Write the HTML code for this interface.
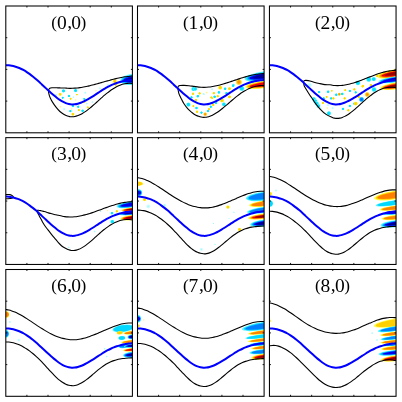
<!DOCTYPE html>
<html><head><meta charset="utf-8"><style>
html,body{margin:0;padding:0;background:#fff;width:402px;height:402px;overflow:hidden}
svg{display:block;font-family:"Liberation Serif",serif;will-change:transform}
</style></head><body>
<svg width="402" height="402" viewBox="0 0 402 402">
<defs><filter id="bl" x="-20%" y="-20%" width="140%" height="140%"><feGaussianBlur stdDeviation="0.55"/></filter><clipPath id="clip"><rect x="0" y="0" width="126.60" height="126.80"/></clipPath><radialGradient id="n3"><stop offset="0.00" stop-color="#00006a" stop-opacity="1.00"/><stop offset="0.22" stop-color="#0000d8" stop-opacity="1.00"/><stop offset="0.42" stop-color="#0050ff" stop-opacity="1.00"/><stop offset="0.60" stop-color="#00b0ff" stop-opacity="1.00"/><stop offset="0.75" stop-color="#20e8ff" stop-opacity="0.95"/><stop offset="0.88" stop-color="#a0ffff" stop-opacity="0.60"/><stop offset="1.00" stop-color="#ffffff" stop-opacity="0.00"/></radialGradient><radialGradient id="n25"><stop offset="0.00" stop-color="#0000c8" stop-opacity="1.00"/><stop offset="0.30" stop-color="#0040ff" stop-opacity="1.00"/><stop offset="0.50" stop-color="#0090ff" stop-opacity="1.00"/><stop offset="0.68" stop-color="#10d8ff" stop-opacity="1.00"/><stop offset="0.82" stop-color="#60f4ff" stop-opacity="0.85"/><stop offset="0.92" stop-color="#c0ffff" stop-opacity="0.50"/><stop offset="1.00" stop-color="#ffffff" stop-opacity="0.00"/></radialGradient><radialGradient id="n2"><stop offset="0.00" stop-color="#0060ff" stop-opacity="1.00"/><stop offset="0.35" stop-color="#00a0ff" stop-opacity="1.00"/><stop offset="0.60" stop-color="#10e0ff" stop-opacity="1.00"/><stop offset="0.80" stop-color="#70f8ff" stop-opacity="0.80"/><stop offset="0.92" stop-color="#c8ffff" stop-opacity="0.45"/><stop offset="1.00" stop-color="#ffffff" stop-opacity="0.00"/></radialGradient><radialGradient id="n15"><stop offset="0.00" stop-color="#00c8ff" stop-opacity="1.00"/><stop offset="0.45" stop-color="#20eaff" stop-opacity="1.00"/><stop offset="0.75" stop-color="#80faff" stop-opacity="0.75"/><stop offset="1.00" stop-color="#ffffff" stop-opacity="0.00"/></radialGradient><radialGradient id="p3"><stop offset="0.00" stop-color="#700000" stop-opacity="1.00"/><stop offset="0.22" stop-color="#d80000" stop-opacity="1.00"/><stop offset="0.42" stop-color="#ff4000" stop-opacity="1.00"/><stop offset="0.60" stop-color="#ff9800" stop-opacity="1.00"/><stop offset="0.75" stop-color="#ffd800" stop-opacity="0.95"/><stop offset="0.88" stop-color="#ffff70" stop-opacity="0.60"/><stop offset="1.00" stop-color="#ffffff" stop-opacity="0.00"/></radialGradient><radialGradient id="p25"><stop offset="0.00" stop-color="#e00000" stop-opacity="1.00"/><stop offset="0.30" stop-color="#ff4000" stop-opacity="1.00"/><stop offset="0.50" stop-color="#ff8c00" stop-opacity="1.00"/><stop offset="0.68" stop-color="#ffc800" stop-opacity="1.00"/><stop offset="0.82" stop-color="#ffee30" stop-opacity="0.85"/><stop offset="0.92" stop-color="#ffffa0" stop-opacity="0.50"/><stop offset="1.00" stop-color="#ffffff" stop-opacity="0.00"/></radialGradient><radialGradient id="p2"><stop offset="0.00" stop-color="#ff6000" stop-opacity="1.00"/><stop offset="0.35" stop-color="#ff9c00" stop-opacity="1.00"/><stop offset="0.60" stop-color="#ffd000" stop-opacity="1.00"/><stop offset="0.80" stop-color="#fff040" stop-opacity="0.80"/><stop offset="0.92" stop-color="#ffffa8" stop-opacity="0.45"/><stop offset="1.00" stop-color="#ffffff" stop-opacity="0.00"/></radialGradient><radialGradient id="p15"><stop offset="0.00" stop-color="#ffb800" stop-opacity="1.00"/><stop offset="0.45" stop-color="#ffdc00" stop-opacity="1.00"/><stop offset="0.75" stop-color="#fff470" stop-opacity="0.75"/><stop offset="1.00" stop-color="#ffffff" stop-opacity="0.00"/></radialGradient><radialGradient id="dc"><stop offset="0.00" stop-color="#00dcff" stop-opacity="1.00"/><stop offset="0.55" stop-color="#10e8ff" stop-opacity="1.00"/><stop offset="0.80" stop-color="#70f6ff" stop-opacity="0.70"/><stop offset="1.00" stop-color="#c0ffff" stop-opacity="0.00"/></radialGradient><radialGradient id="dpc"><stop offset="0.00" stop-color="#90f8ff" stop-opacity="0.85"/><stop offset="0.60" stop-color="#b8fcff" stop-opacity="0.60"/><stop offset="1.00" stop-color="#ffffff" stop-opacity="0.00"/></radialGradient><radialGradient id="dy"><stop offset="0.00" stop-color="#ffd000" stop-opacity="1.00"/><stop offset="0.55" stop-color="#ffe000" stop-opacity="1.00"/><stop offset="0.80" stop-color="#fff060" stop-opacity="0.70"/><stop offset="1.00" stop-color="#ffffa0" stop-opacity="0.00"/></radialGradient><radialGradient id="dyo"><stop offset="0.00" stop-color="#ffb000" stop-opacity="1.00"/><stop offset="0.50" stop-color="#ffd800" stop-opacity="0.95"/><stop offset="1.00" stop-color="#ffffa0" stop-opacity="0.00"/></radialGradient><radialGradient id="dpy"><stop offset="0.00" stop-color="#fff080" stop-opacity="0.85"/><stop offset="0.60" stop-color="#fff8b0" stop-opacity="0.60"/><stop offset="1.00" stop-color="#ffffff" stop-opacity="0.00"/></radialGradient><radialGradient id="dn"><stop offset="0.00" stop-color="#0060ff" stop-opacity="1.00"/><stop offset="0.50" stop-color="#0090ff" stop-opacity="1.00"/><stop offset="0.80" stop-color="#40d0ff" stop-opacity="0.70"/><stop offset="1.00" stop-color="#c0ffff" stop-opacity="0.00"/></radialGradient><radialGradient id="do"><stop offset="0.00" stop-color="#ff8000" stop-opacity="1.00"/><stop offset="0.45" stop-color="#ffb000" stop-opacity="1.00"/><stop offset="0.80" stop-color="#ffe040" stop-opacity="0.70"/><stop offset="1.00" stop-color="#ffffa0" stop-opacity="0.00"/></radialGradient></defs>
<rect width="402" height="402" fill="#fff"/>
<g transform="translate(5.80,6.00)">
<g clip-path="url(#clip)">
<g filter="url(#bl)">
<ellipse cx="127.40" cy="73.30" rx="12.90" ry="5.60" fill="#60f4ff" transform="rotate(-6.0 127.40 73.30)"/>
<ellipse cx="127.40" cy="73.30" rx="11.87" ry="4.70" fill="#00d8ff" transform="rotate(-6.0 127.40 73.30)"/>
<ellipse cx="127.40" cy="73.30" rx="10.96" ry="3.81" fill="#0080ff" transform="rotate(-6.0 127.40 73.30)"/>
<ellipse cx="127.40" cy="73.30" rx="9.93" ry="2.91" fill="#0000f0" transform="rotate(-6.0 127.40 73.30)"/>
<ellipse cx="127.40" cy="73.30" rx="7.74" ry="2.02" fill="#00009a" transform="rotate(-6.0 127.40 73.30)"/>
</g>
<circle cx="57.70" cy="84.90" r="2.08" fill="url(#dc)"/>
<circle cx="69.80" cy="84.60" r="2.08" fill="url(#dc)"/>
<circle cx="63.10" cy="89.90" r="1.60" fill="url(#dc)"/>
<circle cx="56.90" cy="91.70" r="1.44" fill="url(#dc)"/>
<circle cx="50.30" cy="88.90" r="1.60" fill="url(#dpc)"/>
<circle cx="67.70" cy="91.20" r="1.28" fill="url(#dpc)"/>
<circle cx="78.50" cy="92.90" r="1.44" fill="url(#dc)"/>
<circle cx="67.10" cy="100.10" r="1.60" fill="url(#dc)"/>
<circle cx="72.40" cy="100.70" r="1.60" fill="url(#dc)"/>
<circle cx="64.60" cy="105.10" r="1.60" fill="url(#dc)"/>
<circle cx="76.80" cy="104.80" r="1.76" fill="url(#dc)"/>
<circle cx="58.40" cy="103.20" r="1.60" fill="url(#dpc)"/>
<circle cx="79.50" cy="86.70" r="1.60" fill="url(#dpc)"/>
<circle cx="81.00" cy="97.60" r="1.44" fill="url(#dpc)"/>
<circle cx="86.60" cy="96.10" r="1.44" fill="url(#dpc)"/>
<circle cx="102.10" cy="78.90" r="1.60" fill="url(#dpc)"/>
<circle cx="94.10" cy="82.40" r="1.60" fill="url(#dpc)"/>
<circle cx="54.30" cy="88.30" r="1.92" fill="url(#dy)"/>
<circle cx="64.80" cy="92.70" r="1.44" fill="url(#dy)"/>
<circle cx="71.10" cy="88.70" r="1.12" fill="url(#dy)"/>
<circle cx="69.80" cy="93.90" r="1.44" fill="url(#dpy)"/>
<circle cx="82.00" cy="101.40" r="1.44" fill="url(#dy)"/>
<circle cx="73.00" cy="104.10" r="1.44" fill="url(#dy)"/>
<circle cx="67.10" cy="108.20" r="1.92" fill="url(#dy)"/>
<circle cx="65.80" cy="102.90" r="1.44" fill="url(#dpy)"/>
<circle cx="54.60" cy="100.70" r="1.44" fill="url(#dpy)"/>
<circle cx="90.10" cy="84.60" r="1.44" fill="url(#dpy)"/>
<circle cx="78.30" cy="96.40" r="1.12" fill="url(#dy)"/>
<circle cx="109.00" cy="75.30" r="2.72" fill="url(#dyo)"/>
<circle cx="110.00" cy="78.60" r="1.60" fill="url(#dy)"/>
<g transform="translate(0,0.20)">
<path d="M42.70,84.45C42.75,84.26 42.85,83.64 43.00,83.30C43.15,82.96 43.32,82.64 43.60,82.40C43.88,82.16 44.27,81.98 44.70,81.85C45.13,81.72 45.55,81.66 46.20,81.60C46.85,81.54 47.78,81.50 48.60,81.50C49.42,81.50 50.18,81.57 51.10,81.60C52.02,81.63 53.27,81.66 54.10,81.70C54.93,81.74 55.27,81.83 56.10,81.85C56.93,81.87 58.18,81.81 59.10,81.84C60.02,81.88 60.77,82.00 61.60,82.05C62.43,82.09 63.27,82.12 64.10,82.13C64.93,82.14 65.77,82.12 66.60,82.10C67.43,82.07 68.27,82.02 69.10,81.96C69.93,81.90 70.77,81.83 71.60,81.74C72.43,81.65 73.27,81.54 74.10,81.42C74.93,81.30 75.77,81.17 76.60,81.03C77.43,80.89 78.27,80.73 79.10,80.57C79.93,80.40 80.77,80.22 81.60,80.04C82.43,79.86 83.27,79.66 84.10,79.47C84.93,79.27 85.77,79.06 86.60,78.84C87.43,78.63 88.27,78.41 89.10,78.19C89.93,77.97 90.77,77.74 91.60,77.51C92.43,77.27 93.27,77.04 94.10,76.80C94.93,76.57 95.77,76.33 96.60,76.09C97.43,75.85 98.27,75.61 99.10,75.38C99.93,75.14 100.77,74.90 101.60,74.67C102.43,74.44 103.27,74.20 104.10,73.98C104.93,73.75 105.77,73.53 106.60,73.31C107.43,73.09 108.27,72.88 109.10,72.67C109.93,72.47 110.77,72.27 111.60,72.08C112.43,71.89 113.27,71.70 114.10,71.53C114.93,71.36 115.77,71.19 116.60,71.04C117.43,70.89 118.27,70.75 119.10,70.62C119.93,70.49 120.77,70.37 121.60,70.27C122.43,70.17 123.27,70.08 124.10,70.00C124.93,69.93 126.18,69.86 126.60,69.83" fill="none" stroke="#000" stroke-width="1.1"/>
<path d="M42.70,84.45C42.73,84.79 42.72,85.71 42.85,86.50C42.98,87.29 43.24,88.37 43.50,89.20C43.76,90.03 43.87,90.38 44.40,91.50C44.93,92.62 45.70,94.28 46.70,95.90C47.70,97.52 49.17,99.63 50.40,101.20C51.63,102.77 52.85,104.17 54.10,105.30C55.35,106.43 56.65,107.24 57.90,108.00C59.15,108.76 60.57,109.46 61.60,109.87C62.63,110.29 63.27,110.36 64.10,110.48C64.93,110.60 65.77,110.64 66.60,110.62C67.43,110.59 68.27,110.49 69.10,110.33C69.93,110.16 70.77,109.93 71.60,109.65C72.43,109.36 73.27,109.02 74.10,108.62C74.93,108.23 75.77,107.78 76.60,107.30C77.43,106.81 78.27,106.28 79.10,105.71C79.93,105.15 80.77,104.54 81.60,103.91C82.43,103.28 83.27,102.61 84.10,101.93C84.93,101.25 85.77,100.53 86.60,99.81C87.43,99.09 88.27,98.35 89.10,97.61C89.93,96.86 90.77,96.11 91.60,95.35C92.43,94.60 93.27,93.84 94.10,93.09C94.93,92.34 95.77,91.59 96.60,90.86C97.43,90.13 98.27,89.41 99.10,88.71C99.93,88.02 100.77,87.34 101.60,86.68C102.43,86.03 103.27,85.39 104.10,84.78C104.93,84.18 105.77,83.60 106.60,83.05C107.43,82.50 108.27,81.98 109.10,81.49C109.93,81.01 110.77,80.56 111.60,80.14C112.43,79.73 113.27,79.35 114.10,79.01C114.93,78.67 115.77,78.37 116.60,78.12C117.43,77.87 118.27,77.65 119.10,77.49C119.93,77.33 120.77,77.21 121.60,77.15C122.43,77.08 123.27,77.07 124.10,77.11C124.93,77.15 126.18,77.35 126.60,77.40" fill="none" stroke="#000" stroke-width="1.1"/>
<path d="M0.00,58.94C0.50,58.97 2.00,58.99 3.00,59.09C4.00,59.19 5.00,59.34 6.00,59.54C7.00,59.74 8.00,59.99 9.00,60.28C10.00,60.57 11.00,60.90 12.00,61.28C13.00,61.65 14.00,62.07 15.00,62.53C16.00,62.98 17.00,63.44 18.00,64.00C19.00,64.55 20.00,65.19 21.00,65.85C22.00,66.50 23.00,67.19 24.00,67.92C25.00,68.65 26.00,69.41 27.00,70.21C28.00,71.01 29.00,71.84 30.00,72.71C31.00,73.57 32.00,74.49 33.00,75.41C34.00,76.32 35.00,77.28 36.00,78.21C37.00,79.13 38.00,80.05 39.00,80.98C40.00,81.91 41.00,82.85 42.00,83.77C43.00,84.69 44.00,85.62 45.00,86.51C46.00,87.40 47.00,88.29 48.00,89.13C49.00,89.97 50.00,90.79 51.00,91.55C52.00,92.32 53.00,93.05 54.00,93.71C55.00,94.37 56.00,94.99 57.00,95.53C58.00,96.06 59.00,96.54 60.00,96.93C61.00,97.32 62.00,97.63 63.00,97.85C64.00,98.06 65.00,98.18 66.00,98.22C67.00,98.26 68.00,98.21 69.00,98.09C70.00,97.97 71.00,97.76 72.00,97.50C73.00,97.25 74.00,96.92 75.00,96.54C76.00,96.17 77.00,95.73 78.00,95.26C79.00,94.79 80.00,94.26 81.00,93.72C82.00,93.17 83.00,92.58 84.00,91.98C85.00,91.38 86.00,90.74 87.00,90.10C88.00,89.46 89.00,88.80 90.00,88.14C91.00,87.49 92.00,86.82 93.00,86.17C94.00,85.52 95.00,84.86 96.00,84.24C97.00,83.61 98.00,82.99 99.00,82.40C100.00,81.82 101.00,81.26 102.00,80.73C103.00,80.21 104.00,79.71 105.00,79.24C106.00,78.78 107.00,78.34 108.00,77.94C109.00,77.53 110.00,77.15 111.00,76.81C112.00,76.46 113.00,76.14 114.00,75.85C115.00,75.56 116.00,75.30 117.00,75.06C118.00,74.83 119.00,74.62 120.00,74.45C121.00,74.27 122.00,74.12 123.00,73.99C124.00,73.87 125.40,73.75 126.00,73.70C126.60,73.64 126.50,73.67 126.60,73.66" fill="none" stroke="#0000ff" stroke-width="2.0"/>
</g></g>
<rect x="0" y="0" width="126.60" height="126.80" fill="none" stroke="#000" stroke-width="1.05"/>
<path d="M21.10,0V1.50M21.10,126.80V125.30M42.20,0V1.50M42.20,126.80V125.30M63.30,0V1.50M63.30,126.80V125.30M84.40,0V1.50M84.40,126.80V125.30M105.50,0V1.50M105.50,126.80V125.30M0,31.70H1.50M126.60,31.70H125.10M0,63.40H1.50M126.60,63.40H125.10M0,95.10H1.50M126.60,95.10H125.10" stroke="#000" stroke-width="0.9" fill="none"/>
<text font-family="Liberation Serif" fill="#000" transform="translate(0,0.45)"><tspan x="45.44" y="21.44" font-size="17.2">(</tspan><tspan x="51.1" y="22.22" font-size="19.5">0</tspan><tspan x="61.41" y="21.3" font-size="19.5">,</tspan><tspan x="65.46" y="22.22" font-size="19.5">0</tspan><tspan x="74.7" y="21.44" font-size="17.2">)</tspan></text>
</g>
<g transform="translate(137.50,6.00)">
<g clip-path="url(#clip)">
<g filter="url(#bl)">
<ellipse cx="127.40" cy="70.10" rx="20.40" ry="4.90" fill="#60f4ff" transform="rotate(-8.0 127.40 70.10)"/>
<ellipse cx="127.40" cy="70.10" rx="18.77" ry="4.12" fill="#00d8ff" transform="rotate(-8.0 127.40 70.10)"/>
<ellipse cx="127.40" cy="70.10" rx="17.34" ry="3.33" fill="#0080ff" transform="rotate(-8.0 127.40 70.10)"/>
<ellipse cx="127.40" cy="70.10" rx="15.71" ry="2.55" fill="#0000f0" transform="rotate(-8.0 127.40 70.10)"/>
<ellipse cx="127.40" cy="70.10" rx="12.24" ry="1.76" fill="#00009a" transform="rotate(-8.0 127.40 70.10)"/>
<ellipse cx="127.40" cy="78.30" rx="19.90" ry="3.80" fill="#ffff50" transform="rotate(-8.0 127.40 78.30)"/>
<ellipse cx="127.40" cy="78.30" rx="18.31" ry="3.19" fill="#ffd000" transform="rotate(-8.0 127.40 78.30)"/>
<ellipse cx="127.40" cy="78.30" rx="16.91" ry="2.58" fill="#ff8000" transform="rotate(-8.0 127.40 78.30)"/>
<ellipse cx="127.40" cy="78.30" rx="15.32" ry="1.98" fill="#f00000" transform="rotate(-8.0 127.40 78.30)"/>
</g>
<circle cx="55.90" cy="83.00" r="2.56" fill="url(#dc)"/>
<circle cx="57.80" cy="83.00" r="2.24" fill="url(#dc)"/>
<circle cx="60.30" cy="90.20" r="1.76" fill="url(#dc)"/>
<circle cx="54.00" cy="91.40" r="1.60" fill="url(#dc)"/>
<circle cx="50.90" cy="98.60" r="2.56" fill="url(#dc)"/>
<circle cx="59.00" cy="102.00" r="1.76" fill="url(#dc)"/>
<circle cx="64.00" cy="106.60" r="1.60" fill="url(#dc)"/>
<circle cx="70.20" cy="105.10" r="1.60" fill="url(#dpc)"/>
<circle cx="73.30" cy="100.70" r="1.60" fill="url(#dc)"/>
<circle cx="77.10" cy="90.80" r="1.76" fill="url(#dc)"/>
<circle cx="81.40" cy="86.40" r="1.76" fill="url(#dc)"/>
<circle cx="86.40" cy="98.30" r="2.40" fill="url(#dc)"/>
<circle cx="87.60" cy="82.70" r="1.76" fill="url(#dc)"/>
<circle cx="74.60" cy="83.30" r="1.60" fill="url(#dpc)"/>
<circle cx="66.50" cy="88.30" r="1.44" fill="url(#dpc)"/>
<circle cx="95.90" cy="78.90" r="1.60" fill="url(#dc)"/>
<circle cx="65.90" cy="87.90" r="1.44" fill="url(#dpc)"/>
<circle cx="104.30" cy="82.50" r="3.04" fill="url(#dc)"/>
<circle cx="55.50" cy="87.70" r="1.60" fill="url(#dy)"/>
<circle cx="62.10" cy="87.40" r="1.60" fill="url(#dy)"/>
<circle cx="69.00" cy="86.40" r="1.44" fill="url(#dpy)"/>
<circle cx="58.40" cy="93.90" r="1.60" fill="url(#dy)"/>
<circle cx="55.90" cy="100.10" r="1.44" fill="url(#dy)"/>
<circle cx="59.60" cy="105.70" r="1.60" fill="url(#dy)"/>
<circle cx="67.70" cy="108.20" r="2.24" fill="url(#do)"/>
<circle cx="74.60" cy="92.00" r="1.60" fill="url(#dy)"/>
<circle cx="75.80" cy="98.90" r="1.60" fill="url(#dy)"/>
<circle cx="71.50" cy="103.20" r="1.44" fill="url(#dy)"/>
<circle cx="82.70" cy="81.70" r="2.40" fill="url(#dy)"/>
<circle cx="84.50" cy="94.50" r="2.40" fill="url(#dy)"/>
<circle cx="80.20" cy="90.20" r="1.60" fill="url(#dy)"/>
<circle cx="101.40" cy="76.10" r="3.52" fill="url(#do)"/>
<circle cx="69.30" cy="86.70" r="1.44" fill="url(#dpy)"/>
<circle cx="73.80" cy="91.40" r="1.44" fill="url(#dy)"/>
<circle cx="76.30" cy="87.20" r="1.60" fill="url(#dy)"/>
<circle cx="92.00" cy="82.70" r="1.92" fill="url(#dy)"/>
<circle cx="95.70" cy="79.70" r="1.76" fill="url(#dc)"/>
<circle cx="89.00" cy="87.20" r="1.76" fill="url(#dc)"/>
<circle cx="92.00" cy="90.90" r="1.92" fill="url(#dy)"/>
<circle cx="70.40" cy="105.10" r="1.60" fill="url(#dc)"/>
<circle cx="78.60" cy="96.90" r="1.60" fill="url(#dc)"/>
<g transform="translate(0,0.20)">
<path d="M40.30,81.45C40.37,81.26 40.50,80.61 40.70,80.30C40.90,79.99 41.20,79.77 41.50,79.60C41.80,79.43 41.67,79.37 42.50,79.30C43.33,79.23 45.02,79.17 46.50,79.20C47.98,79.23 49.75,79.33 51.40,79.50C53.05,79.67 54.73,79.97 56.40,80.20C58.07,80.43 60.15,80.73 61.40,80.88C62.65,81.03 63.07,81.04 63.90,81.09C64.73,81.13 65.57,81.15 66.40,81.15C67.23,81.14 68.07,81.12 68.90,81.07C69.73,81.02 70.57,80.95 71.40,80.86C72.23,80.77 73.07,80.66 73.90,80.54C74.73,80.42 75.57,80.27 76.40,80.11C77.23,79.96 78.07,79.78 78.90,79.60C79.73,79.41 80.57,79.21 81.40,79.00C82.23,78.79 83.07,78.56 83.90,78.33C84.73,78.10 85.57,77.85 86.40,77.60C87.23,77.35 88.07,77.09 88.90,76.83C89.73,76.56 90.57,76.29 91.40,76.02C92.23,75.75 93.07,75.47 93.90,75.19C94.73,74.91 95.57,74.62 96.40,74.34C97.23,74.06 98.07,73.78 98.90,73.50C99.73,73.22 100.57,72.93 101.40,72.66C102.23,72.39 103.07,72.11 103.90,71.85C104.73,71.58 105.57,71.32 106.40,71.07C107.23,70.81 108.07,70.57 108.90,70.33C109.73,70.10 110.57,69.87 111.40,69.65C112.23,69.44 113.07,69.23 113.90,69.04C114.73,68.85 115.57,68.67 116.40,68.51C117.23,68.35 118.07,68.20 118.90,68.07C119.73,67.94 120.57,67.83 121.40,67.74C122.23,67.64 123.07,67.56 123.90,67.51C124.73,67.46 125.95,67.43 126.40,67.41C126.85,67.40 126.57,67.41 126.60,67.41" fill="none" stroke="#000" stroke-width="1.1"/>
<path d="M40.30,81.45C40.34,81.79 40.40,82.64 40.55,83.50C40.70,84.36 40.91,85.58 41.20,86.60C41.49,87.62 41.82,88.52 42.30,89.60C42.78,90.68 43.40,91.78 44.10,93.10C44.80,94.42 45.45,95.90 46.50,97.50C47.55,99.10 49.08,101.23 50.40,102.70C51.72,104.17 53.07,105.23 54.40,106.30C55.73,107.37 57.07,108.39 58.40,109.10C59.73,109.81 61.32,110.22 62.40,110.55C63.48,110.87 64.07,110.97 64.90,111.06C65.73,111.16 66.57,111.17 67.40,111.12C68.23,111.07 69.07,110.94 69.90,110.76C70.73,110.58 71.57,110.33 72.40,110.03C73.23,109.73 74.07,109.37 74.90,108.97C75.73,108.57 76.57,108.12 77.40,107.63C78.23,107.14 79.07,106.60 79.90,106.04C80.73,105.48 81.57,104.87 82.40,104.25C83.23,103.63 84.07,102.97 84.90,102.30C85.73,101.63 86.57,100.94 87.40,100.24C88.23,99.54 89.07,98.82 89.90,98.10C90.73,97.38 91.57,96.65 92.40,95.93C93.23,95.21 94.07,94.48 94.90,93.77C95.73,93.06 96.57,92.35 97.40,91.67C98.23,90.98 99.07,90.31 99.90,89.66C100.73,89.01 101.57,88.39 102.40,87.79C103.23,87.19 104.07,86.62 104.90,86.08C105.73,85.53 106.57,85.02 107.40,84.53C108.23,84.05 109.07,83.59 109.90,83.17C110.73,82.74 111.57,82.35 112.40,81.99C113.23,81.64 114.07,81.31 114.90,81.02C115.73,80.73 116.57,80.48 117.40,80.26C118.23,80.05 119.07,79.87 119.90,79.73C120.73,79.59 121.57,79.49 122.40,79.43C123.23,79.37 124.20,79.37 124.90,79.38C125.60,79.39 126.32,79.48 126.60,79.49" fill="none" stroke="#000" stroke-width="1.1"/>
<path d="M0.00,58.94C0.50,58.97 2.00,58.99 3.00,59.09C4.00,59.19 5.00,59.34 6.00,59.54C7.00,59.74 8.00,59.99 9.00,60.28C10.00,60.57 11.00,60.90 12.00,61.28C13.00,61.65 14.00,62.07 15.00,62.53C16.00,62.98 17.00,63.44 18.00,64.00C19.00,64.55 20.00,65.19 21.00,65.85C22.00,66.50 23.00,67.19 24.00,67.92C25.00,68.65 26.00,69.41 27.00,70.21C28.00,71.01 29.00,71.84 30.00,72.71C31.00,73.57 32.00,74.49 33.00,75.41C34.00,76.32 35.00,77.28 36.00,78.21C37.00,79.13 38.00,80.05 39.00,80.98C40.00,81.91 41.00,82.85 42.00,83.77C43.00,84.69 44.00,85.62 45.00,86.51C46.00,87.40 47.00,88.29 48.00,89.13C49.00,89.97 50.00,90.79 51.00,91.55C52.00,92.32 53.00,93.05 54.00,93.71C55.00,94.37 56.00,94.99 57.00,95.53C58.00,96.06 59.00,96.54 60.00,96.93C61.00,97.32 62.00,97.63 63.00,97.85C64.00,98.06 65.00,98.18 66.00,98.22C67.00,98.26 68.00,98.21 69.00,98.09C70.00,97.97 71.00,97.76 72.00,97.50C73.00,97.25 74.00,96.92 75.00,96.54C76.00,96.17 77.00,95.73 78.00,95.26C79.00,94.79 80.00,94.26 81.00,93.72C82.00,93.17 83.00,92.58 84.00,91.98C85.00,91.38 86.00,90.74 87.00,90.10C88.00,89.46 89.00,88.80 90.00,88.14C91.00,87.49 92.00,86.82 93.00,86.17C94.00,85.52 95.00,84.86 96.00,84.24C97.00,83.61 98.00,82.99 99.00,82.40C100.00,81.82 101.00,81.26 102.00,80.73C103.00,80.21 104.00,79.71 105.00,79.24C106.00,78.78 107.00,78.34 108.00,77.94C109.00,77.53 110.00,77.15 111.00,76.81C112.00,76.46 113.00,76.14 114.00,75.85C115.00,75.56 116.00,75.30 117.00,75.06C118.00,74.83 119.00,74.62 120.00,74.45C121.00,74.27 122.00,74.12 123.00,73.99C124.00,73.87 125.40,73.75 126.00,73.70C126.60,73.64 126.50,73.67 126.60,73.66" fill="none" stroke="#0000ff" stroke-width="2.0"/>
</g></g>
<rect x="0" y="0" width="126.60" height="126.80" fill="none" stroke="#000" stroke-width="1.05"/>
<path d="M21.10,0V1.50M21.10,126.80V125.30M42.20,0V1.50M42.20,126.80V125.30M63.30,0V1.50M63.30,126.80V125.30M84.40,0V1.50M84.40,126.80V125.30M105.50,0V1.50M105.50,126.80V125.30M0,31.70H1.50M126.60,31.70H125.10M0,63.40H1.50M126.60,63.40H125.10M0,95.10H1.50M126.60,95.10H125.10" stroke="#000" stroke-width="0.9" fill="none"/>
<text font-family="Liberation Serif" fill="#000" transform="translate(0,0.45)"><tspan x="45.44" y="21.44" font-size="17.2">(</tspan><tspan x="51.1" y="22.22" font-size="19.5">1</tspan><tspan x="61.41" y="21.3" font-size="19.5">,</tspan><tspan x="65.46" y="22.22" font-size="19.5">0</tspan><tspan x="74.7" y="21.44" font-size="17.2">)</tspan></text>
</g>
<g transform="translate(269.45,6.00)">
<g clip-path="url(#clip)">
<g filter="url(#bl)">
<ellipse cx="127.40" cy="67.40" rx="20.10" ry="4.50" fill="#ffff50" transform="rotate(-9.0 127.40 67.40)"/>
<ellipse cx="127.40" cy="67.40" rx="18.49" ry="3.78" fill="#ffd000" transform="rotate(-9.0 127.40 67.40)"/>
<ellipse cx="127.40" cy="67.40" rx="17.08" ry="3.06" fill="#ff8000" transform="rotate(-9.0 127.40 67.40)"/>
<ellipse cx="127.40" cy="67.40" rx="15.48" ry="2.34" fill="#f00000" transform="rotate(-9.0 127.40 67.40)"/>
<ellipse cx="127.40" cy="67.40" rx="12.06" ry="1.62" fill="#9a0000" transform="rotate(-9.0 127.40 67.40)"/>
<ellipse cx="127.40" cy="73.20" rx="18.40" ry="3.10" fill="#60f4ff" transform="rotate(-8.0 127.40 73.20)"/>
<ellipse cx="127.40" cy="73.20" rx="16.93" ry="2.60" fill="#00d8ff" transform="rotate(-8.0 127.40 73.20)"/>
<ellipse cx="127.40" cy="73.20" rx="15.64" ry="2.11" fill="#0080ff" transform="rotate(-8.0 127.40 73.20)"/>
<ellipse cx="127.40" cy="73.20" rx="14.17" ry="1.61" fill="#0000f0" transform="rotate(-8.0 127.40 73.20)"/>
<ellipse cx="127.40" cy="73.20" rx="11.04" ry="1.12" fill="#00009a" transform="rotate(-8.0 127.40 73.20)"/>
<ellipse cx="127.40" cy="79.80" rx="16.90" ry="3.60" fill="#ffff50" transform="rotate(-8.0 127.40 79.80)"/>
<ellipse cx="127.40" cy="79.80" rx="15.55" ry="3.02" fill="#ffd000" transform="rotate(-8.0 127.40 79.80)"/>
<ellipse cx="127.40" cy="79.80" rx="14.36" ry="2.45" fill="#ff8000" transform="rotate(-8.0 127.40 79.80)"/>
<ellipse cx="127.40" cy="79.80" rx="13.01" ry="1.87" fill="#f00000" transform="rotate(-8.0 127.40 79.80)"/>
<ellipse cx="127.40" cy="79.80" rx="10.14" ry="1.30" fill="#9a0000" transform="rotate(-8.0 127.40 79.80)"/>
</g>
<circle cx="40.05" cy="79.00" r="3.20" fill="url(#dpc)"/>
<circle cx="49.75" cy="86.10" r="1.60" fill="url(#dc)"/>
<circle cx="58.65" cy="85.70" r="1.76" fill="url(#dc)"/>
<circle cx="61.65" cy="92.40" r="1.60" fill="url(#dc)"/>
<circle cx="66.85" cy="88.70" r="1.76" fill="url(#dc)"/>
<circle cx="72.85" cy="87.90" r="1.76" fill="url(#dc)"/>
<circle cx="80.35" cy="84.90" r="1.60" fill="url(#dc)"/>
<circle cx="86.25" cy="86.40" r="1.60" fill="url(#dc)"/>
<circle cx="92.25" cy="93.10" r="2.56" fill="url(#dc)"/>
<circle cx="54.25" cy="92.40" r="1.60" fill="url(#dc)"/>
<circle cx="45.95" cy="93.10" r="1.60" fill="url(#dpc)"/>
<circle cx="58.65" cy="99.10" r="1.60" fill="url(#dpc)"/>
<circle cx="63.15" cy="102.10" r="1.60" fill="url(#dpc)"/>
<circle cx="73.55" cy="102.80" r="1.60" fill="url(#dc)"/>
<circle cx="80.35" cy="99.90" r="1.60" fill="url(#dc)"/>
<circle cx="59.45" cy="107.30" r="2.56" fill="url(#dc)"/>
<circle cx="84.85" cy="97.60" r="1.60" fill="url(#dc)"/>
<circle cx="88.45" cy="76.90" r="2.88" fill="url(#dc)"/>
<circle cx="99.35" cy="73.40" r="3.04" fill="url(#dc)"/>
<circle cx="104.35" cy="73.10" r="2.56" fill="url(#dc)"/>
<circle cx="104.55" cy="83.50" r="2.88" fill="url(#dc)"/>
<circle cx="44.35" cy="93.00" r="2.40" fill="url(#dc)"/>
<circle cx="45.85" cy="95.20" r="2.56" fill="url(#dc)"/>
<circle cx="47.35" cy="97.60" r="2.56" fill="url(#dc)"/>
<circle cx="48.95" cy="100.00" r="2.40" fill="url(#dc)"/>
<circle cx="50.75" cy="102.40" r="2.08" fill="url(#dpc)"/>
<circle cx="92.05" cy="93.50" r="2.88" fill="url(#dn)"/>
<circle cx="97.75" cy="88.50" r="2.88" fill="url(#do)"/>
<circle cx="69.85" cy="88.20" r="1.92" fill="url(#do)"/>
<circle cx="62.45" cy="84.90" r="1.12" fill="url(#dy)"/>
<circle cx="75.85" cy="84.20" r="1.44" fill="url(#dy)"/>
<circle cx="84.85" cy="83.40" r="1.60" fill="url(#dy)"/>
<circle cx="93.05" cy="80.40" r="1.60" fill="url(#dy)"/>
<circle cx="57.15" cy="90.90" r="1.44" fill="url(#dy)"/>
<circle cx="63.95" cy="92.40" r="1.60" fill="url(#dy)"/>
<circle cx="75.15" cy="92.40" r="1.60" fill="url(#dy)"/>
<circle cx="53.45" cy="96.90" r="1.44" fill="url(#dy)"/>
<circle cx="86.25" cy="97.60" r="2.40" fill="url(#dy)"/>
<circle cx="78.85" cy="104.30" r="1.60" fill="url(#dy)"/>
<circle cx="57.95" cy="102.10" r="1.44" fill="url(#dpy)"/>
<circle cx="89.25" cy="90.90" r="1.60" fill="url(#dy)"/>
<circle cx="93.45" cy="79.90" r="1.60" fill="url(#dy)"/>
<circle cx="101.35" cy="79.10" r="1.60" fill="url(#dy)"/>
<circle cx="107.85" cy="69.90" r="1.60" fill="url(#dy)"/>
<g transform="translate(0,0.20)">
<path d="M34.05,75.45C34.12,75.34 34.29,74.98 34.50,74.80C34.71,74.62 34.96,74.45 35.30,74.35C35.64,74.25 35.67,74.13 36.55,74.20C37.42,74.27 39.07,74.41 40.55,74.75C42.03,75.09 43.80,75.81 45.45,76.25C47.10,76.69 48.78,77.04 50.45,77.40C52.12,77.76 53.78,78.21 55.45,78.40C57.12,78.59 59.20,78.43 60.45,78.53C61.70,78.63 62.12,78.89 62.95,79.02C63.78,79.15 64.62,79.25 65.45,79.32C66.28,79.39 67.12,79.42 67.95,79.43C68.78,79.44 69.62,79.42 70.45,79.37C71.28,79.33 72.12,79.25 72.95,79.16C73.78,79.07 74.62,78.95 75.45,78.81C76.28,78.67 77.12,78.51 77.95,78.33C78.78,78.15 79.62,77.95 80.45,77.73C81.28,77.52 82.12,77.29 82.95,77.04C83.78,76.80 84.62,76.54 85.45,76.27C86.28,76.00 87.12,75.72 87.95,75.43C88.78,75.14 89.62,74.83 90.45,74.53C91.28,74.22 92.12,73.91 92.95,73.59C93.78,73.27 94.62,72.95 95.45,72.62C96.28,72.30 97.12,71.97 97.95,71.64C98.78,71.32 99.62,70.99 100.45,70.67C101.28,70.34 102.12,70.02 102.95,69.71C103.78,69.39 104.62,69.08 105.45,68.78C106.28,68.48 107.12,68.18 107.95,67.89C108.78,67.61 109.62,67.33 110.45,67.07C111.28,66.81 112.12,66.55 112.95,66.32C113.78,66.08 114.62,65.86 115.45,65.66C116.28,65.45 117.12,65.26 117.95,65.09C118.78,64.93 119.62,64.78 120.45,64.65C121.28,64.52 122.12,64.42 122.95,64.34C123.78,64.26 124.84,64.20 125.45,64.17C126.06,64.14 126.41,64.15 126.60,64.14" fill="none" stroke="#000" stroke-width="1.1"/>
<path d="M34.05,75.45C34.09,75.76 34.18,76.62 34.30,77.30C34.42,77.97 34.46,78.72 34.75,79.50C35.04,80.28 35.42,80.92 36.05,82.00C36.68,83.08 37.72,84.68 38.55,86.00C39.38,87.32 40.22,88.67 41.05,89.90C41.88,91.13 42.82,92.32 43.55,93.40C44.28,94.48 44.30,94.87 45.45,96.40C46.60,97.93 48.58,100.63 50.45,102.60C52.32,104.57 54.58,106.76 56.65,108.20C58.72,109.64 61.40,110.60 62.85,111.23C64.30,111.86 64.52,111.82 65.35,111.98C66.18,112.14 67.02,112.20 67.85,112.20C68.68,112.19 69.52,112.09 70.35,111.93C71.18,111.77 72.02,111.53 72.85,111.24C73.68,110.95 74.52,110.58 75.35,110.17C76.18,109.76 77.02,109.28 77.85,108.77C78.68,108.26 79.52,107.69 80.35,107.09C81.18,106.50 82.02,105.85 82.85,105.19C83.68,104.53 84.52,103.83 85.35,103.12C86.18,102.40 87.02,101.66 87.85,100.92C88.68,100.17 89.52,99.41 90.35,98.65C91.18,97.89 92.02,97.12 92.85,96.36C93.68,95.60 94.52,94.84 95.35,94.10C96.18,93.36 97.02,92.63 97.85,91.93C98.68,91.23 99.52,90.54 100.35,89.89C101.18,89.24 102.02,88.61 102.85,88.02C103.68,87.44 104.52,86.88 105.35,86.36C106.18,85.84 107.02,85.35 107.85,84.90C108.68,84.45 109.52,84.04 110.35,83.66C111.18,83.28 112.02,82.94 112.85,82.65C113.68,82.35 114.52,82.09 115.35,81.87C116.18,81.66 117.02,81.48 117.85,81.35C118.68,81.22 119.52,81.12 120.35,81.08C121.18,81.04 122.02,81.04 122.85,81.08C123.68,81.13 124.72,81.28 125.35,81.37C125.97,81.45 126.39,81.57 126.60,81.62" fill="none" stroke="#000" stroke-width="1.1"/>
<path d="M0.00,58.94C0.50,58.97 2.00,58.99 3.00,59.09C4.00,59.19 5.00,59.34 6.00,59.54C7.00,59.74 8.00,59.99 9.00,60.28C10.00,60.57 11.00,60.90 12.00,61.28C13.00,61.65 14.00,62.07 15.00,62.53C16.00,62.98 17.00,63.44 18.00,64.00C19.00,64.55 20.00,65.19 21.00,65.85C22.00,66.50 23.00,67.19 24.00,67.92C25.00,68.65 26.00,69.41 27.00,70.21C28.00,71.01 29.00,71.84 30.00,72.71C31.00,73.57 32.00,74.49 33.00,75.41C34.00,76.32 35.00,77.28 36.00,78.21C37.00,79.13 38.00,80.05 39.00,80.98C40.00,81.91 41.00,82.85 42.00,83.77C43.00,84.69 44.00,85.62 45.00,86.51C46.00,87.40 47.00,88.29 48.00,89.13C49.00,89.97 50.00,90.79 51.00,91.55C52.00,92.32 53.00,93.05 54.00,93.71C55.00,94.37 56.00,94.99 57.00,95.53C58.00,96.06 59.00,96.54 60.00,96.93C61.00,97.32 62.00,97.63 63.00,97.85C64.00,98.06 65.00,98.18 66.00,98.22C67.00,98.26 68.00,98.21 69.00,98.09C70.00,97.97 71.00,97.76 72.00,97.50C73.00,97.25 74.00,96.92 75.00,96.54C76.00,96.17 77.00,95.73 78.00,95.26C79.00,94.79 80.00,94.26 81.00,93.72C82.00,93.17 83.00,92.58 84.00,91.98C85.00,91.38 86.00,90.74 87.00,90.10C88.00,89.46 89.00,88.80 90.00,88.14C91.00,87.49 92.00,86.82 93.00,86.17C94.00,85.52 95.00,84.86 96.00,84.24C97.00,83.61 98.00,82.99 99.00,82.40C100.00,81.82 101.00,81.26 102.00,80.73C103.00,80.21 104.00,79.71 105.00,79.24C106.00,78.78 107.00,78.34 108.00,77.94C109.00,77.53 110.00,77.15 111.00,76.81C112.00,76.46 113.00,76.14 114.00,75.85C115.00,75.56 116.00,75.30 117.00,75.06C118.00,74.83 119.00,74.62 120.00,74.45C121.00,74.27 122.00,74.12 123.00,73.99C124.00,73.87 125.40,73.75 126.00,73.70C126.60,73.64 126.50,73.67 126.60,73.66" fill="none" stroke="#0000ff" stroke-width="2.0"/>
</g></g>
<rect x="0" y="0" width="126.60" height="126.80" fill="none" stroke="#000" stroke-width="1.05"/>
<path d="M21.10,0V1.50M21.10,126.80V125.30M42.20,0V1.50M42.20,126.80V125.30M63.30,0V1.50M63.30,126.80V125.30M84.40,0V1.50M84.40,126.80V125.30M105.50,0V1.50M105.50,126.80V125.30M0,31.70H1.50M126.60,31.70H125.10M0,63.40H1.50M126.60,63.40H125.10M0,95.10H1.50M126.60,95.10H125.10" stroke="#000" stroke-width="0.9" fill="none"/>
<text font-family="Liberation Serif" fill="#000" transform="translate(0,0.45)"><tspan x="45.44" y="21.44" font-size="17.2">(</tspan><tspan x="51.1" y="22.22" font-size="19.5">2</tspan><tspan x="61.41" y="21.3" font-size="19.5">,</tspan><tspan x="65.46" y="22.22" font-size="19.5">0</tspan><tspan x="74.7" y="21.44" font-size="17.2">)</tspan></text>
</g>
<g transform="translate(5.80,137.65)">
<g clip-path="url(#clip)">
<g filter="url(#bl)">
<ellipse cx="127.40" cy="66.60" rx="16.80" ry="3.40" fill="#60f4ff" transform="rotate(-8.0 127.40 66.60)"/>
<ellipse cx="127.40" cy="66.60" rx="15.46" ry="2.86" fill="#00d8ff" transform="rotate(-8.0 127.40 66.60)"/>
<ellipse cx="127.40" cy="66.60" rx="14.28" ry="2.31" fill="#0080ff" transform="rotate(-8.0 127.40 66.60)"/>
<ellipse cx="127.40" cy="66.60" rx="12.94" ry="1.77" fill="#0000f0" transform="rotate(-8.0 127.40 66.60)"/>
<ellipse cx="127.40" cy="71.60" rx="12.30" ry="1.90" fill="#ffff50" transform="rotate(-6.0 127.40 71.60)"/>
<ellipse cx="127.40" cy="71.60" rx="11.32" ry="1.60" fill="#ffd000" transform="rotate(-6.0 127.40 71.60)"/>
<ellipse cx="127.40" cy="71.60" rx="10.45" ry="1.29" fill="#ff8000" transform="rotate(-6.0 127.40 71.60)"/>
<ellipse cx="127.40" cy="71.60" rx="9.47" ry="0.99" fill="#f00000" transform="rotate(-6.0 127.40 71.60)"/>
<ellipse cx="127.40" cy="71.60" rx="7.38" ry="0.68" fill="#9a0000" transform="rotate(-6.0 127.40 71.60)"/>
<ellipse cx="127.40" cy="75.20" rx="13.80" ry="2.10" fill="#60f4ff" transform="rotate(-6.0 127.40 75.20)"/>
<ellipse cx="127.40" cy="75.20" rx="12.70" ry="1.76" fill="#00d8ff" transform="rotate(-6.0 127.40 75.20)"/>
<ellipse cx="127.40" cy="75.20" rx="11.73" ry="1.43" fill="#0080ff" transform="rotate(-6.0 127.40 75.20)"/>
<ellipse cx="127.40" cy="75.20" rx="10.63" ry="1.09" fill="#0000f0" transform="rotate(-6.0 127.40 75.20)"/>
<ellipse cx="127.40" cy="75.20" rx="8.28" ry="0.76" fill="#00009a" transform="rotate(-6.0 127.40 75.20)"/>
<ellipse cx="127.40" cy="79.80" rx="13.00" ry="2.60" fill="#ffff50" transform="rotate(-6.0 127.40 79.80)"/>
<ellipse cx="127.40" cy="79.80" rx="11.96" ry="2.18" fill="#ffd000" transform="rotate(-6.0 127.40 79.80)"/>
<ellipse cx="127.40" cy="79.80" rx="11.05" ry="1.77" fill="#ff8000" transform="rotate(-6.0 127.40 79.80)"/>
<ellipse cx="127.40" cy="79.80" rx="10.01" ry="1.35" fill="#f00000" transform="rotate(-6.0 127.40 79.80)"/>
<ellipse cx="127.40" cy="79.80" rx="7.80" ry="0.94" fill="#9a0000" transform="rotate(-6.0 127.40 79.80)"/>
</g>
<circle cx="106.20" cy="75.55" r="1.76" fill="url(#dc)"/>
<circle cx="106.50" cy="84.05" r="2.40" fill="url(#dc)"/>
<circle cx="88.80" cy="93.85" r="1.44" fill="url(#dpc)"/>
<circle cx="62.90" cy="109.85" r="1.44" fill="url(#dpc)"/>
<circle cx="111.00" cy="73.65" r="1.60" fill="url(#dy)"/>
<circle cx="101.70" cy="72.95" r="1.28" fill="url(#dpy)"/>
<circle cx="94.70" cy="73.85" r="0.96" fill="url(#dpc)"/>
<g transform="translate(0,0.00)">
<path d="M30.95,73.05C31.02,72.99 31.11,72.78 31.40,72.70C31.69,72.62 32.07,72.49 32.70,72.55C33.33,72.61 34.37,72.86 35.20,73.05C36.03,73.24 36.87,73.47 37.70,73.70C38.53,73.93 39.38,74.15 40.20,74.40C41.02,74.65 41.78,74.95 42.60,75.20C43.42,75.45 44.27,75.67 45.10,75.90C45.93,76.13 46.77,76.40 47.60,76.60C48.43,76.80 48.60,76.77 50.10,77.10C51.60,77.43 55.10,78.24 56.60,78.55C58.10,78.87 58.27,78.88 59.10,79.00C59.93,79.12 60.77,79.21 61.60,79.27C62.43,79.33 63.27,79.37 64.10,79.38C64.93,79.39 65.77,79.37 66.60,79.33C67.43,79.29 68.27,79.23 69.10,79.15C69.93,79.06 70.77,78.96 71.60,78.83C72.43,78.71 73.27,78.57 74.10,78.41C74.93,78.25 75.77,78.07 76.60,77.87C77.43,77.68 78.27,77.47 79.10,77.25C79.93,77.03 80.77,76.80 81.60,76.55C82.43,76.30 83.27,76.05 84.10,75.78C84.93,75.52 85.77,75.24 86.60,74.96C87.43,74.67 88.27,74.38 89.10,74.09C89.93,73.80 90.77,73.49 91.60,73.19C92.43,72.89 93.27,72.58 94.10,72.27C94.93,71.97 95.77,71.66 96.60,71.35C97.43,71.04 98.27,70.73 99.10,70.43C99.93,70.13 100.77,69.83 101.60,69.53C102.43,69.23 103.27,68.94 104.10,68.66C104.93,68.37 105.77,68.10 106.60,67.83C107.43,67.56 108.27,67.30 109.10,67.05C109.93,66.80 110.77,66.56 111.60,66.34C112.43,66.12 113.27,65.90 114.10,65.71C114.93,65.51 115.77,65.33 116.60,65.16C117.43,65.00 118.27,64.85 119.10,64.72C119.93,64.59 120.77,64.48 121.60,64.39C122.43,64.30 123.27,64.23 124.10,64.19C124.93,64.15 126.18,64.14 126.60,64.13" fill="none" stroke="#000" stroke-width="1.1"/>
<path d="M30.95,73.05C31.02,73.29 31.19,74.03 31.40,74.50C31.61,74.97 31.82,75.13 32.20,75.85C32.58,76.57 33.20,77.89 33.70,78.80C34.20,79.71 34.70,80.38 35.20,81.30C35.70,82.22 36.12,83.26 36.70,84.30C37.28,85.34 38.03,86.54 38.70,87.55C39.37,88.56 39.95,89.35 40.70,90.35C41.45,91.35 42.37,92.48 43.20,93.55C44.03,94.62 44.87,95.72 45.70,96.75C46.53,97.78 47.38,98.78 48.20,99.75C49.02,100.72 49.78,101.58 50.60,102.55C51.42,103.52 52.10,104.50 53.10,105.55C54.10,106.60 55.37,107.94 56.60,108.85C57.83,109.76 59.43,110.46 60.50,111.02C61.57,111.58 62.17,111.90 63.00,112.20C63.83,112.50 64.67,112.69 65.50,112.80C66.33,112.91 67.17,112.93 68.00,112.88C68.83,112.82 69.67,112.68 70.50,112.48C71.33,112.28 72.17,111.99 73.00,111.66C73.83,111.33 74.67,110.92 75.50,110.48C76.33,110.03 77.17,109.52 78.00,108.98C78.83,108.44 79.67,107.84 80.50,107.22C81.33,106.60 82.17,105.94 83.00,105.26C83.83,104.58 84.67,103.87 85.50,103.15C86.33,102.42 87.17,101.68 88.00,100.93C88.83,100.18 89.67,99.42 90.50,98.67C91.33,97.92 92.17,97.16 93.00,96.42C93.83,95.68 94.67,94.94 95.50,94.22C96.33,93.51 97.17,92.81 98.00,92.15C98.83,91.48 99.67,90.83 100.50,90.22C101.33,89.60 102.17,89.02 103.00,88.46C103.83,87.90 104.67,87.37 105.50,86.88C106.33,86.38 107.17,85.91 108.00,85.48C108.83,85.05 109.67,84.66 110.50,84.30C111.33,83.94 112.17,83.61 113.00,83.33C113.83,83.04 114.67,82.79 115.50,82.58C116.33,82.38 117.17,82.21 118.00,82.08C118.83,81.96 119.67,81.88 120.50,81.84C121.33,81.80 122.17,81.81 123.00,81.86C123.83,81.92 124.90,82.08 125.50,82.17C126.10,82.25 126.42,82.35 126.60,82.39" fill="none" stroke="#000" stroke-width="1.1"/>
<path d="M-0.50,56.85C-0.08,56.85 1.25,56.83 2.00,56.85C2.75,56.88 3.37,56.88 4.00,57.00C4.63,57.12 5.30,57.35 5.80,57.60C6.30,57.85 6.65,58.13 7.00,58.50C7.35,58.87 7.75,59.58 7.90,59.80" fill="none" stroke="#000" stroke-width="1.1"/>
<path d="M-0.50,61.05C-0.08,61.05 1.20,61.07 2.00,61.05C2.80,61.02 3.63,60.99 4.30,60.90C4.97,60.81 5.52,60.63 6.00,60.50C6.48,60.37 6.88,60.22 7.20,60.10C7.52,59.98 7.78,59.85 7.90,59.80" fill="none" stroke="#000" stroke-width="1.1"/>
<path d="M0.00,58.94C0.50,58.97 2.00,58.99 3.00,59.09C4.00,59.19 5.00,59.34 6.00,59.54C7.00,59.74 8.00,59.99 9.00,60.28C10.00,60.57 11.00,60.90 12.00,61.28C13.00,61.65 14.00,62.07 15.00,62.53C16.00,62.98 17.00,63.44 18.00,64.00C19.00,64.55 20.00,65.19 21.00,65.85C22.00,66.50 23.00,67.19 24.00,67.92C25.00,68.65 26.00,69.41 27.00,70.21C28.00,71.01 29.00,71.84 30.00,72.71C31.00,73.57 32.00,74.49 33.00,75.41C34.00,76.32 35.00,77.28 36.00,78.21C37.00,79.13 38.00,80.05 39.00,80.98C40.00,81.91 41.00,82.85 42.00,83.77C43.00,84.69 44.00,85.62 45.00,86.51C46.00,87.40 47.00,88.29 48.00,89.13C49.00,89.97 50.00,90.79 51.00,91.55C52.00,92.32 53.00,93.05 54.00,93.71C55.00,94.37 56.00,94.99 57.00,95.53C58.00,96.06 59.00,96.54 60.00,96.93C61.00,97.32 62.00,97.63 63.00,97.85C64.00,98.06 65.00,98.18 66.00,98.22C67.00,98.26 68.00,98.21 69.00,98.09C70.00,97.97 71.00,97.76 72.00,97.50C73.00,97.25 74.00,96.92 75.00,96.54C76.00,96.17 77.00,95.73 78.00,95.26C79.00,94.79 80.00,94.26 81.00,93.72C82.00,93.17 83.00,92.58 84.00,91.98C85.00,91.38 86.00,90.74 87.00,90.10C88.00,89.46 89.00,88.80 90.00,88.14C91.00,87.49 92.00,86.82 93.00,86.17C94.00,85.52 95.00,84.86 96.00,84.24C97.00,83.61 98.00,82.99 99.00,82.40C100.00,81.82 101.00,81.26 102.00,80.73C103.00,80.21 104.00,79.71 105.00,79.24C106.00,78.78 107.00,78.34 108.00,77.94C109.00,77.53 110.00,77.15 111.00,76.81C112.00,76.46 113.00,76.14 114.00,75.85C115.00,75.56 116.00,75.30 117.00,75.06C118.00,74.83 119.00,74.62 120.00,74.45C121.00,74.27 122.00,74.12 123.00,73.99C124.00,73.87 125.40,73.75 126.00,73.70C126.60,73.64 126.50,73.67 126.60,73.66" fill="none" stroke="#0000ff" stroke-width="2.0"/>
</g></g>
<rect x="0" y="0" width="126.60" height="126.80" fill="none" stroke="#000" stroke-width="1.05"/>
<path d="M21.10,0V1.50M21.10,126.80V125.30M42.20,0V1.50M42.20,126.80V125.30M63.30,0V1.50M63.30,126.80V125.30M84.40,0V1.50M84.40,126.80V125.30M105.50,0V1.50M105.50,126.80V125.30M0,31.70H1.50M126.60,31.70H125.10M0,63.40H1.50M126.60,63.40H125.10M0,95.10H1.50M126.60,95.10H125.10" stroke="#000" stroke-width="0.9" fill="none"/>
<text font-family="Liberation Serif" fill="#000" transform="translate(0,0.00)"><tspan x="45.44" y="21.44" font-size="17.2">(</tspan><tspan x="51.1" y="22.22" font-size="19.5">3</tspan><tspan x="61.41" y="21.3" font-size="19.5">,</tspan><tspan x="65.46" y="22.22" font-size="19.5">0</tspan><tspan x="74.7" y="21.44" font-size="17.2">)</tspan></text>
</g>
<g transform="translate(137.50,137.65)">
<g clip-path="url(#clip)">
<g filter="url(#bl)">
<ellipse cx="127.40" cy="58.30" rx="19.20" ry="4.60" fill="#60f4ff" transform="rotate(-8.0 127.40 58.30)"/>
<ellipse cx="127.40" cy="58.30" rx="17.66" ry="3.86" fill="#00d8ff" transform="rotate(-8.0 127.40 58.30)"/>
<ellipse cx="127.40" cy="58.30" rx="16.32" ry="3.13" fill="#0080ff" transform="rotate(-8.0 127.40 58.30)"/>
<ellipse cx="127.40" cy="65.80" rx="15.90" ry="3.00" fill="#ffff50" transform="rotate(-7.0 127.40 65.80)"/>
<ellipse cx="127.40" cy="65.80" rx="14.63" ry="2.52" fill="#ffd000" transform="rotate(-7.0 127.40 65.80)"/>
<ellipse cx="127.40" cy="65.80" rx="13.51" ry="2.04" fill="#ff8000" transform="rotate(-7.0 127.40 65.80)"/>
<ellipse cx="127.40" cy="72.30" rx="17.90" ry="3.10" fill="#60f4ff" transform="rotate(-7.0 127.40 72.30)"/>
<ellipse cx="127.40" cy="72.30" rx="16.47" ry="2.60" fill="#00d8ff" transform="rotate(-7.0 127.40 72.30)"/>
<ellipse cx="127.40" cy="72.30" rx="15.21" ry="2.11" fill="#0080ff" transform="rotate(-7.0 127.40 72.30)"/>
<ellipse cx="127.40" cy="78.50" rx="16.90" ry="2.80" fill="#ffff50" transform="rotate(-7.0 127.40 78.50)"/>
<ellipse cx="127.40" cy="78.50" rx="15.55" ry="2.35" fill="#ffd000" transform="rotate(-7.0 127.40 78.50)"/>
<ellipse cx="127.40" cy="78.50" rx="14.36" ry="1.90" fill="#ff8000" transform="rotate(-7.0 127.40 78.50)"/>
<ellipse cx="127.40" cy="78.50" rx="13.01" ry="1.46" fill="#f00000" transform="rotate(-7.0 127.40 78.50)"/>
<ellipse cx="127.40" cy="78.50" rx="10.14" ry="1.01" fill="#9a0000" transform="rotate(-7.0 127.40 78.50)"/>
<ellipse cx="127.40" cy="85.30" rx="14.90" ry="3.60" fill="#60f4ff" transform="rotate(-7.0 127.40 85.30)"/>
<ellipse cx="127.40" cy="85.30" rx="13.71" ry="3.02" fill="#00d8ff" transform="rotate(-7.0 127.40 85.30)"/>
<ellipse cx="127.40" cy="85.30" rx="12.66" ry="2.45" fill="#0080ff" transform="rotate(-7.0 127.40 85.30)"/>
<ellipse cx="127.40" cy="85.30" rx="11.47" ry="1.87" fill="#0000f0" transform="rotate(-7.0 127.40 85.30)"/>
<ellipse cx="127.40" cy="85.30" rx="8.94" ry="1.30" fill="#00009a" transform="rotate(-7.0 127.40 85.30)"/>
<ellipse cx="-0.3" cy="46.00" rx="6.00" ry="2.40" fill="#ffff50"/>
<ellipse cx="-0.3" cy="46.00" rx="5.52" ry="2.02" fill="#ffd000"/>
<ellipse cx="-0.3" cy="55.00" rx="5.00" ry="3.80" fill="#60f4ff"/>
<ellipse cx="-0.3" cy="55.00" rx="4.60" ry="3.19" fill="#00d8ff"/>
<ellipse cx="-0.3" cy="55.00" rx="4.25" ry="2.58" fill="#0080ff"/>
<ellipse cx="-0.3" cy="55.00" rx="3.85" ry="1.98" fill="#0000f0"/>
</g>
<circle cx="7.00" cy="62.05" r="1.92" fill="url(#dy)"/>
<circle cx="90.40" cy="69.45" r="2.08" fill="url(#dy)"/>
<circle cx="102.10" cy="91.75" r="2.08" fill="url(#dy)"/>
<circle cx="10.80" cy="68.75" r="2.72" fill="url(#dpc)"/>
<circle cx="27.10" cy="67.65" r="2.24" fill="url(#dpc)"/>
<circle cx="63.90" cy="111.75" r="2.08" fill="url(#dpc)"/>
<circle cx="76.00" cy="85.85" r="1.12" fill="url(#dpc)"/>
<circle cx="77.50" cy="106.75" r="1.28" fill="url(#dpc)"/>
<circle cx="96.40" cy="74.65" r="1.28" fill="url(#dpc)"/>
<circle cx="91.50" cy="80.85" r="0.96" fill="url(#dpc)"/>
<g transform="translate(0,0.00)">
<path d="M0.00,40.06C0.50,40.14 2.00,40.34 3.00,40.57C4.00,40.79 5.00,41.08 6.00,41.41C7.00,41.73 8.00,42.12 9.00,42.54C10.00,42.95 11.00,43.42 12.00,43.91C13.00,44.41 14.00,44.94 15.00,45.50C16.00,46.06 17.00,46.65 18.00,47.25C19.00,47.86 20.00,48.49 21.00,49.14C22.00,49.78 23.00,50.44 24.00,51.11C25.00,51.77 26.00,52.45 27.00,53.13C28.00,53.80 29.00,54.48 30.00,55.15C31.00,55.82 32.00,56.49 33.00,57.14C34.00,57.80 35.00,58.44 36.00,59.06C37.00,59.69 38.00,60.28 39.00,60.87C40.00,61.46 41.00,62.05 42.00,62.61C43.00,63.16 44.00,63.71 45.00,64.23C46.00,64.74 47.00,65.23 48.00,65.69C49.00,66.15 50.00,66.60 51.00,66.99C52.00,67.38 53.00,67.73 54.00,68.04C55.00,68.36 56.00,68.63 57.00,68.88C58.00,69.13 59.00,69.34 60.00,69.52C61.00,69.70 62.00,69.85 63.00,69.96C64.00,70.08 65.00,70.15 66.00,70.19C67.00,70.23 68.00,70.24 69.00,70.20C70.00,70.16 71.00,70.09 72.00,69.98C73.00,69.86 74.00,69.70 75.00,69.52C76.00,69.33 77.00,69.10 78.00,68.84C79.00,68.59 80.00,68.30 81.00,67.99C82.00,67.68 83.00,67.33 84.00,66.98C85.00,66.62 86.00,66.24 87.00,65.85C88.00,65.45 89.00,65.04 90.00,64.62C91.00,64.21 92.00,63.77 93.00,63.34C94.00,62.91 95.00,62.46 96.00,62.02C97.00,61.59 98.00,61.15 99.00,60.71C100.00,60.27 101.00,59.83 102.00,59.40C103.00,58.97 104.00,58.55 105.00,58.14C106.00,57.74 107.00,57.34 108.00,56.97C109.00,56.60 110.00,56.25 111.00,55.92C112.00,55.60 113.00,55.30 114.00,55.03C115.00,54.76 116.00,54.52 117.00,54.31C118.00,54.11 119.00,53.94 120.00,53.81C121.00,53.68 122.00,53.59 123.00,53.55C124.00,53.51 125.40,53.56 126.00,53.57C126.60,53.57 126.50,53.60 126.60,53.60" fill="none" stroke="#000" stroke-width="1.1"/>
<path d="M0.00,72.45C0.50,72.47 2.00,72.48 3.00,72.57C4.00,72.66 5.00,72.81 6.00,73.01C7.00,73.20 8.00,73.45 9.00,73.75C10.00,74.04 11.00,74.39 12.00,74.78C13.00,75.17 14.00,75.62 15.00,76.10C16.00,76.59 17.00,77.12 18.00,77.69C19.00,78.26 20.00,78.88 21.00,79.54C22.00,80.20 23.00,80.91 24.00,81.65C25.00,82.39 26.00,83.17 27.00,83.99C28.00,84.81 29.00,85.67 30.00,86.57C31.00,87.46 32.00,88.40 33.00,89.36C34.00,90.33 35.00,91.33 36.00,92.37C37.00,93.40 38.00,94.48 39.00,95.57C40.00,96.66 41.00,97.79 42.00,98.90C43.00,100.01 44.00,101.14 45.00,102.23C46.00,103.31 47.00,104.40 48.00,105.43C49.00,106.45 50.00,107.46 51.00,108.37C52.00,109.29 53.00,110.16 54.00,110.94C55.00,111.72 56.00,112.42 57.00,113.04C58.00,113.66 59.00,114.20 60.00,114.64C61.00,115.08 62.00,115.44 63.00,115.69C64.00,115.95 65.00,116.11 66.00,116.16C67.00,116.22 68.00,116.17 69.00,116.01C70.00,115.86 71.00,115.58 72.00,115.22C73.00,114.86 74.00,114.39 75.00,113.86C76.00,113.33 77.00,112.71 78.00,112.04C79.00,111.38 80.00,110.64 81.00,109.88C82.00,109.12 83.00,108.30 84.00,107.48C85.00,106.66 86.00,105.80 87.00,104.95C88.00,104.10 89.00,103.24 90.00,102.40C91.00,101.57 92.00,100.73 93.00,99.93C94.00,99.14 95.00,98.36 96.00,97.63C97.00,96.90 98.00,96.20 99.00,95.56C100.00,94.92 101.00,94.33 102.00,93.79C103.00,93.25 104.00,92.76 105.00,92.32C106.00,91.88 107.00,91.48 108.00,91.13C109.00,90.78 110.00,90.48 111.00,90.21C112.00,89.94 113.00,89.71 114.00,89.51C115.00,89.32 116.00,89.16 117.00,89.02C118.00,88.88 119.00,88.78 120.00,88.69C121.00,88.60 122.00,88.55 123.00,88.50C124.00,88.45 125.40,88.43 126.00,88.42C126.60,88.40 126.50,88.41 126.60,88.41" fill="none" stroke="#000" stroke-width="1.1"/>
<path d="M0.00,58.94C0.50,58.97 2.00,58.99 3.00,59.09C4.00,59.19 5.00,59.34 6.00,59.54C7.00,59.74 8.00,59.99 9.00,60.28C10.00,60.57 11.00,60.90 12.00,61.28C13.00,61.65 14.00,62.07 15.00,62.53C16.00,62.98 17.00,63.44 18.00,64.00C19.00,64.55 20.00,65.19 21.00,65.85C22.00,66.50 23.00,67.19 24.00,67.92C25.00,68.65 26.00,69.41 27.00,70.21C28.00,71.01 29.00,71.84 30.00,72.71C31.00,73.57 32.00,74.49 33.00,75.41C34.00,76.32 35.00,77.28 36.00,78.21C37.00,79.13 38.00,80.05 39.00,80.98C40.00,81.91 41.00,82.85 42.00,83.77C43.00,84.69 44.00,85.62 45.00,86.51C46.00,87.40 47.00,88.29 48.00,89.13C49.00,89.97 50.00,90.79 51.00,91.55C52.00,92.32 53.00,93.05 54.00,93.71C55.00,94.37 56.00,94.99 57.00,95.53C58.00,96.06 59.00,96.54 60.00,96.93C61.00,97.32 62.00,97.63 63.00,97.85C64.00,98.06 65.00,98.18 66.00,98.22C67.00,98.26 68.00,98.21 69.00,98.09C70.00,97.97 71.00,97.76 72.00,97.50C73.00,97.25 74.00,96.92 75.00,96.54C76.00,96.17 77.00,95.73 78.00,95.26C79.00,94.79 80.00,94.26 81.00,93.72C82.00,93.17 83.00,92.58 84.00,91.98C85.00,91.38 86.00,90.74 87.00,90.10C88.00,89.46 89.00,88.80 90.00,88.14C91.00,87.49 92.00,86.82 93.00,86.17C94.00,85.52 95.00,84.86 96.00,84.24C97.00,83.61 98.00,82.99 99.00,82.40C100.00,81.82 101.00,81.26 102.00,80.73C103.00,80.21 104.00,79.71 105.00,79.24C106.00,78.78 107.00,78.34 108.00,77.94C109.00,77.53 110.00,77.15 111.00,76.81C112.00,76.46 113.00,76.14 114.00,75.85C115.00,75.56 116.00,75.30 117.00,75.06C118.00,74.83 119.00,74.62 120.00,74.45C121.00,74.27 122.00,74.12 123.00,73.99C124.00,73.87 125.40,73.75 126.00,73.70C126.60,73.64 126.50,73.67 126.60,73.66" fill="none" stroke="#0000ff" stroke-width="2.0"/>
</g></g>
<rect x="0" y="0" width="126.60" height="126.80" fill="none" stroke="#000" stroke-width="1.05"/>
<path d="M21.10,0V1.50M21.10,126.80V125.30M42.20,0V1.50M42.20,126.80V125.30M63.30,0V1.50M63.30,126.80V125.30M84.40,0V1.50M84.40,126.80V125.30M105.50,0V1.50M105.50,126.80V125.30M0,31.70H1.50M126.60,31.70H125.10M0,63.40H1.50M126.60,63.40H125.10M0,95.10H1.50M126.60,95.10H125.10" stroke="#000" stroke-width="0.9" fill="none"/>
<text font-family="Liberation Serif" fill="#000" transform="translate(0,0.00)"><tspan x="45.44" y="21.44" font-size="17.2">(</tspan><tspan x="51.1" y="22.22" font-size="19.5">4</tspan><tspan x="61.41" y="21.3" font-size="19.5">,</tspan><tspan x="65.46" y="22.22" font-size="19.5">0</tspan><tspan x="74.7" y="21.44" font-size="17.2">)</tspan></text>
</g>
<g transform="translate(269.45,137.65)">
<g clip-path="url(#clip)">
<g filter="url(#bl)">
<ellipse cx="127.40" cy="57.10" rx="23.20" ry="4.40" fill="#ffff50" transform="rotate(-9.0 127.40 57.10)"/>
<ellipse cx="127.40" cy="57.10" rx="21.34" ry="3.70" fill="#ffd000" transform="rotate(-9.0 127.40 57.10)"/>
<ellipse cx="127.40" cy="57.10" rx="19.72" ry="2.99" fill="#ff8000" transform="rotate(-9.0 127.40 57.10)"/>
<ellipse cx="127.40" cy="64.80" rx="21.40" ry="2.60" fill="#60f4ff" transform="rotate(-8.0 127.40 64.80)"/>
<ellipse cx="127.40" cy="64.80" rx="19.69" ry="2.18" fill="#00d8ff" transform="rotate(-8.0 127.40 64.80)"/>
<ellipse cx="127.40" cy="70.00" rx="17.40" ry="2.40" fill="#ffff50" transform="rotate(-7.0 127.40 70.00)"/>
<ellipse cx="127.40" cy="70.00" rx="16.01" ry="2.02" fill="#ffd000" transform="rotate(-7.0 127.40 70.00)"/>
<ellipse cx="127.40" cy="70.00" rx="14.79" ry="1.63" fill="#ff8000" transform="rotate(-7.0 127.40 70.00)"/>
<ellipse cx="127.40" cy="74.80" rx="15.40" ry="1.80" fill="#60f4ff" transform="rotate(-6.0 127.40 74.80)"/>
<ellipse cx="127.40" cy="74.80" rx="14.17" ry="1.51" fill="#00d8ff" transform="rotate(-6.0 127.40 74.80)"/>
<ellipse cx="127.40" cy="74.80" rx="13.09" ry="1.22" fill="#0080ff" transform="rotate(-6.0 127.40 74.80)"/>
<ellipse cx="127.40" cy="74.80" rx="11.86" ry="0.94" fill="#0000f0" transform="rotate(-6.0 127.40 74.80)"/>
<ellipse cx="127.40" cy="79.60" rx="15.40" ry="2.40" fill="#ffff50" transform="rotate(-6.0 127.40 79.60)"/>
<ellipse cx="127.40" cy="79.60" rx="14.17" ry="2.02" fill="#ffd000" transform="rotate(-6.0 127.40 79.60)"/>
<ellipse cx="127.40" cy="79.60" rx="13.09" ry="1.63" fill="#ff8000" transform="rotate(-6.0 127.40 79.60)"/>
<ellipse cx="127.40" cy="85.80" rx="16.40" ry="3.60" fill="#60f4ff" transform="rotate(-7.0 127.40 85.80)"/>
<ellipse cx="127.40" cy="85.80" rx="15.09" ry="3.02" fill="#00d8ff" transform="rotate(-7.0 127.40 85.80)"/>
<ellipse cx="127.40" cy="85.80" rx="13.94" ry="2.45" fill="#0080ff" transform="rotate(-7.0 127.40 85.80)"/>
<ellipse cx="127.40" cy="85.80" rx="12.63" ry="1.87" fill="#0000f0" transform="rotate(-7.0 127.40 85.80)"/>
<ellipse cx="127.40" cy="85.80" rx="9.84" ry="1.30" fill="#00009a" transform="rotate(-7.0 127.40 85.80)"/>
<ellipse cx="-0.3" cy="56.10" rx="2.80" ry="2.10" fill="#ffff50"/>
<ellipse cx="-0.3" cy="56.10" rx="2.58" ry="1.76" fill="#ffd000"/>
<ellipse cx="-0.3" cy="65.90" rx="3.80" ry="3.50" fill="#60f4ff"/>
<ellipse cx="-0.3" cy="65.90" rx="3.50" ry="2.94" fill="#00d8ff"/>
</g>
<circle cx="6.55" cy="52.85" r="1.60" fill="url(#dpc)"/>
<g transform="translate(0,0.00)">
<path d="M0.00,38.76C0.50,38.84 2.00,39.04 3.00,39.27C4.00,39.49 5.00,39.78 6.00,40.11C7.00,40.43 8.00,40.82 9.00,41.24C10.00,41.65 11.00,42.12 12.00,42.61C13.00,43.11 14.00,43.64 15.00,44.20C16.00,44.76 17.00,45.35 18.00,45.95C19.00,46.56 20.00,47.19 21.00,47.84C22.00,48.48 23.00,49.14 24.00,49.81C25.00,50.47 26.00,51.15 27.00,51.83C28.00,52.50 29.00,53.18 30.00,53.85C31.00,54.52 32.00,55.19 33.00,55.84C34.00,56.50 35.00,57.14 36.00,57.76C37.00,58.39 38.00,58.98 39.00,59.57C40.00,60.16 41.00,60.75 42.00,61.31C43.00,61.86 44.00,62.41 45.00,62.93C46.00,63.44 47.00,63.93 48.00,64.39C49.00,64.85 50.00,65.30 51.00,65.69C52.00,66.08 53.00,66.43 54.00,66.74C55.00,67.06 56.00,67.33 57.00,67.58C58.00,67.83 59.00,68.04 60.00,68.22C61.00,68.40 62.00,68.55 63.00,68.66C64.00,68.78 65.00,68.85 66.00,68.89C67.00,68.93 68.00,68.94 69.00,68.90C70.00,68.86 71.00,68.79 72.00,68.68C73.00,68.56 74.00,68.40 75.00,68.22C76.00,68.03 77.00,67.80 78.00,67.54C79.00,67.29 80.00,67.00 81.00,66.69C82.00,66.38 83.00,66.03 84.00,65.68C85.00,65.32 86.00,64.94 87.00,64.55C88.00,64.15 89.00,63.74 90.00,63.32C91.00,62.91 92.00,62.47 93.00,62.04C94.00,61.61 95.00,61.16 96.00,60.72C97.00,60.29 98.00,59.85 99.00,59.41C100.00,58.97 101.00,58.53 102.00,58.10C103.00,57.67 104.00,57.25 105.00,56.84C106.00,56.44 107.00,56.04 108.00,55.67C109.00,55.30 110.00,54.95 111.00,54.62C112.00,54.30 113.00,54.00 114.00,53.73C115.00,53.46 116.00,53.22 117.00,53.01C118.00,52.81 119.00,52.64 120.00,52.51C121.00,52.38 122.00,52.29 123.00,52.25C124.00,52.21 125.40,52.26 126.00,52.27C126.60,52.27 126.50,52.30 126.60,52.30" fill="none" stroke="#000" stroke-width="1.1"/>
<path d="M0.00,73.65C0.50,73.67 2.00,73.68 3.00,73.77C4.00,73.86 5.00,74.01 6.00,74.21C7.00,74.40 8.00,74.65 9.00,74.95C10.00,75.24 11.00,75.59 12.00,75.98C13.00,76.37 14.00,76.82 15.00,77.30C16.00,77.79 17.00,78.32 18.00,78.89C19.00,79.46 20.00,80.08 21.00,80.74C22.00,81.40 23.00,82.11 24.00,82.85C25.00,83.59 26.00,84.37 27.00,85.19C28.00,86.01 29.00,86.89 30.00,87.77C31.00,88.65 32.00,89.53 33.00,90.46C34.00,91.39 35.00,92.36 36.00,93.36C37.00,94.36 38.00,95.40 39.00,96.45C40.00,97.51 41.00,98.60 42.00,99.68C43.00,100.75 44.00,101.85 45.00,102.90C46.00,103.95 47.00,105.00 48.00,106.00C49.00,106.99 50.00,107.97 51.00,108.87C52.00,109.78 53.00,110.65 54.00,111.43C55.00,112.20 56.00,112.91 57.00,113.52C58.00,114.14 59.00,114.67 60.00,115.11C61.00,115.55 62.00,115.91 63.00,116.16C64.00,116.41 65.00,116.57 66.00,116.62C67.00,116.67 68.00,116.62 69.00,116.46C70.00,116.30 71.00,116.02 72.00,115.66C73.00,115.30 74.00,114.83 75.00,114.29C76.00,113.76 77.00,113.14 78.00,112.47C79.00,111.80 80.00,111.06 81.00,110.30C82.00,109.54 83.00,108.71 84.00,107.89C85.00,107.07 86.00,106.20 87.00,105.35C88.00,104.50 89.00,103.64 90.00,102.80C91.00,101.96 92.00,101.12 93.00,100.32C94.00,99.52 95.00,98.74 96.00,98.01C97.00,97.28 98.00,96.57 99.00,95.93C100.00,95.29 101.00,94.69 102.00,94.15C103.00,93.61 104.00,93.12 105.00,92.67C106.00,92.23 107.00,91.83 108.00,91.48C109.00,91.13 110.00,90.82 111.00,90.55C112.00,90.28 113.00,90.05 114.00,89.85C115.00,89.65 116.00,89.48 117.00,89.34C118.00,89.20 119.00,89.10 120.00,89.01C121.00,88.92 122.00,88.86 123.00,88.81C124.00,88.76 125.40,88.74 126.00,88.72C126.60,88.70 126.50,88.71 126.60,88.71" fill="none" stroke="#000" stroke-width="1.1"/>
<path d="M0.00,58.94C0.50,58.97 2.00,58.99 3.00,59.09C4.00,59.19 5.00,59.34 6.00,59.54C7.00,59.74 8.00,59.99 9.00,60.28C10.00,60.57 11.00,60.90 12.00,61.28C13.00,61.65 14.00,62.07 15.00,62.53C16.00,62.98 17.00,63.44 18.00,64.00C19.00,64.55 20.00,65.19 21.00,65.85C22.00,66.50 23.00,67.19 24.00,67.92C25.00,68.65 26.00,69.41 27.00,70.21C28.00,71.01 29.00,71.84 30.00,72.71C31.00,73.57 32.00,74.49 33.00,75.41C34.00,76.32 35.00,77.28 36.00,78.21C37.00,79.13 38.00,80.05 39.00,80.98C40.00,81.91 41.00,82.85 42.00,83.77C43.00,84.69 44.00,85.62 45.00,86.51C46.00,87.40 47.00,88.29 48.00,89.13C49.00,89.97 50.00,90.79 51.00,91.55C52.00,92.32 53.00,93.05 54.00,93.71C55.00,94.37 56.00,94.99 57.00,95.53C58.00,96.06 59.00,96.54 60.00,96.93C61.00,97.32 62.00,97.63 63.00,97.85C64.00,98.06 65.00,98.18 66.00,98.22C67.00,98.26 68.00,98.21 69.00,98.09C70.00,97.97 71.00,97.76 72.00,97.50C73.00,97.25 74.00,96.92 75.00,96.54C76.00,96.17 77.00,95.73 78.00,95.26C79.00,94.79 80.00,94.26 81.00,93.72C82.00,93.17 83.00,92.58 84.00,91.98C85.00,91.38 86.00,90.74 87.00,90.10C88.00,89.46 89.00,88.80 90.00,88.14C91.00,87.49 92.00,86.82 93.00,86.17C94.00,85.52 95.00,84.86 96.00,84.24C97.00,83.61 98.00,82.99 99.00,82.40C100.00,81.82 101.00,81.26 102.00,80.73C103.00,80.21 104.00,79.71 105.00,79.24C106.00,78.78 107.00,78.34 108.00,77.94C109.00,77.53 110.00,77.15 111.00,76.81C112.00,76.46 113.00,76.14 114.00,75.85C115.00,75.56 116.00,75.30 117.00,75.06C118.00,74.83 119.00,74.62 120.00,74.45C121.00,74.27 122.00,74.12 123.00,73.99C124.00,73.87 125.40,73.75 126.00,73.70C126.60,73.64 126.50,73.67 126.60,73.66" fill="none" stroke="#0000ff" stroke-width="2.0"/>
</g></g>
<rect x="0" y="0" width="126.60" height="126.80" fill="none" stroke="#000" stroke-width="1.05"/>
<path d="M21.10,0V1.50M21.10,126.80V125.30M42.20,0V1.50M42.20,126.80V125.30M63.30,0V1.50M63.30,126.80V125.30M84.40,0V1.50M84.40,126.80V125.30M105.50,0V1.50M105.50,126.80V125.30M0,31.70H1.50M126.60,31.70H125.10M0,63.40H1.50M126.60,63.40H125.10M0,95.10H1.50M126.60,95.10H125.10" stroke="#000" stroke-width="0.9" fill="none"/>
<text font-family="Liberation Serif" fill="#000" transform="translate(0,0.00)"><tspan x="45.44" y="21.44" font-size="17.2">(</tspan><tspan x="51.1" y="22.22" font-size="19.5">5</tspan><tspan x="61.41" y="21.3" font-size="19.5">,</tspan><tspan x="65.46" y="22.22" font-size="19.5">0</tspan><tspan x="74.7" y="21.44" font-size="17.2">)</tspan></text>
</g>
<g transform="translate(5.80,269.50)">
<g clip-path="url(#clip)">
<g filter="url(#bl)">
<ellipse cx="117.50" cy="58.90" rx="11.00" ry="3.70" fill="#60f4ff" transform="rotate(-8.0 117.50 58.90)"/>
<ellipse cx="117.50" cy="58.90" rx="10.12" ry="3.11" fill="#00d8ff" transform="rotate(-8.0 117.50 58.90)"/>
<ellipse cx="114.00" cy="63.30" rx="3.20" ry="1.60" fill="#ffff50" transform="rotate(-6.0 114.00 63.30)"/>
<ellipse cx="114.00" cy="63.30" rx="2.94" ry="1.34" fill="#ffd000" transform="rotate(-6.0 114.00 63.30)"/>
<ellipse cx="127.40" cy="63.00" rx="9.90" ry="1.80" fill="#ffff50" transform="rotate(-6.0 127.40 63.00)"/>
<ellipse cx="127.40" cy="63.00" rx="9.11" ry="1.51" fill="#ffd000" transform="rotate(-6.0 127.40 63.00)"/>
<ellipse cx="127.40" cy="63.00" rx="8.41" ry="1.22" fill="#ff8000" transform="rotate(-6.0 127.40 63.00)"/>
<ellipse cx="116.00" cy="68.50" rx="3.50" ry="2.00" fill="#60f4ff" transform="rotate(-6.0 116.00 68.50)"/>
<ellipse cx="116.00" cy="68.50" rx="3.22" ry="1.68" fill="#00d8ff" transform="rotate(-6.0 116.00 68.50)"/>
<ellipse cx="127.40" cy="67.20" rx="5.90" ry="2.60" fill="#60f4ff" transform="rotate(-6.0 127.40 67.20)"/>
<ellipse cx="127.40" cy="67.20" rx="5.43" ry="2.18" fill="#00d8ff" transform="rotate(-6.0 127.40 67.20)"/>
<ellipse cx="127.40" cy="67.20" rx="5.01" ry="1.77" fill="#0080ff" transform="rotate(-6.0 127.40 67.20)"/>
<ellipse cx="127.40" cy="67.20" rx="4.54" ry="1.35" fill="#0000f0" transform="rotate(-6.0 127.40 67.20)"/>
<ellipse cx="127.40" cy="67.20" rx="3.54" ry="0.94" fill="#00009a" transform="rotate(-6.0 127.40 67.20)"/>
<ellipse cx="127.40" cy="71.90" rx="12.40" ry="1.60" fill="#ffff50" transform="rotate(-5.0 127.40 71.90)"/>
<ellipse cx="127.40" cy="71.90" rx="11.41" ry="1.34" fill="#ffd000" transform="rotate(-5.0 127.40 71.90)"/>
<ellipse cx="127.40" cy="71.90" rx="10.54" ry="1.09" fill="#ff8000" transform="rotate(-5.0 127.40 71.90)"/>
<ellipse cx="119.00" cy="76.60" rx="6.50" ry="2.00" fill="#60f4ff" transform="rotate(-5.0 119.00 76.60)"/>
<ellipse cx="119.00" cy="76.60" rx="5.98" ry="1.68" fill="#00d8ff" transform="rotate(-5.0 119.00 76.60)"/>
<ellipse cx="119.00" cy="76.60" rx="5.52" ry="1.36" fill="#0080ff" transform="rotate(-5.0 119.00 76.60)"/>
<ellipse cx="127.40" cy="76.20" rx="9.40" ry="1.80" fill="#60f4ff" transform="rotate(-5.0 127.40 76.20)"/>
<ellipse cx="127.40" cy="76.20" rx="8.65" ry="1.51" fill="#00d8ff" transform="rotate(-5.0 127.40 76.20)"/>
<ellipse cx="127.40" cy="76.20" rx="7.99" ry="1.22" fill="#0080ff" transform="rotate(-5.0 127.40 76.20)"/>
<ellipse cx="127.40" cy="76.20" rx="7.24" ry="0.94" fill="#0000f0" transform="rotate(-5.0 127.40 76.20)"/>
<ellipse cx="127.40" cy="76.20" rx="5.64" ry="0.65" fill="#00009a" transform="rotate(-5.0 127.40 76.20)"/>
<ellipse cx="127.40" cy="80.20" rx="10.40" ry="1.60" fill="#ffff50" transform="rotate(-5.0 127.40 80.20)"/>
<ellipse cx="127.40" cy="80.20" rx="9.57" ry="1.34" fill="#ffd000" transform="rotate(-5.0 127.40 80.20)"/>
<ellipse cx="127.40" cy="80.20" rx="8.84" ry="1.09" fill="#ff8000" transform="rotate(-5.0 127.40 80.20)"/>
<ellipse cx="127.40" cy="80.20" rx="8.01" ry="0.83" fill="#f00000" transform="rotate(-5.0 127.40 80.20)"/>
<ellipse cx="127.40" cy="85.00" rx="10.40" ry="3.10" fill="#60f4ff" transform="rotate(-6.0 127.40 85.00)"/>
<ellipse cx="127.40" cy="85.00" rx="9.57" ry="2.60" fill="#00d8ff" transform="rotate(-6.0 127.40 85.00)"/>
<ellipse cx="127.40" cy="85.00" rx="8.84" ry="2.11" fill="#0080ff" transform="rotate(-6.0 127.40 85.00)"/>
<ellipse cx="127.40" cy="85.00" rx="8.01" ry="1.61" fill="#0000f0" transform="rotate(-6.0 127.40 85.00)"/>
<ellipse cx="127.40" cy="85.00" rx="6.24" ry="1.12" fill="#00009a" transform="rotate(-6.0 127.40 85.00)"/>
<ellipse cx="-0.3" cy="45.00" rx="3.80" ry="3.60" fill="#ffff50"/>
<ellipse cx="-0.3" cy="45.00" rx="3.50" ry="3.02" fill="#ffd000"/>
<ellipse cx="-0.3" cy="45.00" rx="3.23" ry="2.45" fill="#ff8000"/>
<ellipse cx="-0.3" cy="64.30" rx="3.40" ry="4.00" fill="#60f4ff"/>
<ellipse cx="-0.3" cy="64.30" rx="3.13" ry="3.36" fill="#00d8ff"/>
<ellipse cx="-0.3" cy="64.30" rx="2.89" ry="2.72" fill="#0080ff"/>
</g>
<circle cx="4.00" cy="52.50" r="1.44" fill="url(#dpc)"/>
<circle cx="13.00" cy="70.70" r="1.92" fill="url(#dpc)"/>
<circle cx="98.80" cy="79.20" r="1.44" fill="url(#dpc)"/>
<circle cx="100.90" cy="87.00" r="1.44" fill="url(#dpc)"/>
<circle cx="104.50" cy="90.20" r="1.28" fill="url(#dpy)"/>
<g transform="translate(0,0.00)">
<path d="M0.00,40.06C0.50,40.14 2.00,40.34 3.00,40.57C4.00,40.79 5.00,41.08 6.00,41.41C7.00,41.73 8.00,42.12 9.00,42.54C10.00,42.95 11.00,43.42 12.00,43.91C13.00,44.41 14.00,44.94 15.00,45.50C16.00,46.06 17.00,46.65 18.00,47.25C19.00,47.86 20.00,48.49 21.00,49.14C22.00,49.78 23.00,50.44 24.00,51.11C25.00,51.77 26.00,52.45 27.00,53.13C28.00,53.80 29.00,54.48 30.00,55.15C31.00,55.82 32.00,56.49 33.00,57.14C34.00,57.80 35.00,58.44 36.00,59.06C37.00,59.69 38.00,60.28 39.00,60.87C40.00,61.46 41.00,62.05 42.00,62.61C43.00,63.16 44.00,63.71 45.00,64.23C46.00,64.74 47.00,65.23 48.00,65.69C49.00,66.15 50.00,66.60 51.00,66.99C52.00,67.38 53.00,67.73 54.00,68.04C55.00,68.36 56.00,68.63 57.00,68.88C58.00,69.13 59.00,69.34 60.00,69.52C61.00,69.70 62.00,69.85 63.00,69.96C64.00,70.08 65.00,70.15 66.00,70.19C67.00,70.23 68.00,70.24 69.00,70.20C70.00,70.16 71.00,70.09 72.00,69.98C73.00,69.86 74.00,69.70 75.00,69.52C76.00,69.33 77.00,69.10 78.00,68.84C79.00,68.59 80.00,68.30 81.00,67.99C82.00,67.68 83.00,67.33 84.00,66.98C85.00,66.62 86.00,66.24 87.00,65.85C88.00,65.45 89.00,65.04 90.00,64.62C91.00,64.21 92.00,63.77 93.00,63.34C94.00,62.91 95.00,62.46 96.00,62.02C97.00,61.59 98.00,61.15 99.00,60.71C100.00,60.27 101.00,59.83 102.00,59.40C103.00,58.97 104.00,58.55 105.00,58.14C106.00,57.74 107.00,57.34 108.00,56.97C109.00,56.60 110.00,56.25 111.00,55.92C112.00,55.60 113.00,55.30 114.00,55.03C115.00,54.76 116.00,54.52 117.00,54.31C118.00,54.11 119.00,53.94 120.00,53.81C121.00,53.68 122.00,53.59 123.00,53.55C124.00,53.51 125.40,53.56 126.00,53.57C126.60,53.57 126.50,53.60 126.60,53.60" fill="none" stroke="#000" stroke-width="1.1"/>
<path d="M0.00,72.45C0.50,72.47 2.00,72.48 3.00,72.57C4.00,72.66 5.00,72.81 6.00,73.01C7.00,73.20 8.00,73.45 9.00,73.75C10.00,74.04 11.00,74.39 12.00,74.78C13.00,75.17 14.00,75.62 15.00,76.10C16.00,76.59 17.00,77.12 18.00,77.69C19.00,78.26 20.00,78.88 21.00,79.54C22.00,80.20 23.00,80.91 24.00,81.65C25.00,82.39 26.00,83.17 27.00,83.99C28.00,84.81 29.00,85.67 30.00,86.57C31.00,87.46 32.00,88.40 33.00,89.36C34.00,90.33 35.00,91.33 36.00,92.37C37.00,93.40 38.00,94.48 39.00,95.57C40.00,96.66 41.00,97.79 42.00,98.90C43.00,100.01 44.00,101.14 45.00,102.23C46.00,103.31 47.00,104.40 48.00,105.43C49.00,106.45 50.00,107.46 51.00,108.37C52.00,109.29 53.00,110.16 54.00,110.94C55.00,111.72 56.00,112.42 57.00,113.04C58.00,113.66 59.00,114.20 60.00,114.64C61.00,115.08 62.00,115.44 63.00,115.69C64.00,115.95 65.00,116.11 66.00,116.16C67.00,116.22 68.00,116.17 69.00,116.01C70.00,115.86 71.00,115.58 72.00,115.22C73.00,114.86 74.00,114.39 75.00,113.86C76.00,113.33 77.00,112.71 78.00,112.04C79.00,111.38 80.00,110.64 81.00,109.88C82.00,109.12 83.00,108.30 84.00,107.48C85.00,106.66 86.00,105.80 87.00,104.95C88.00,104.10 89.00,103.24 90.00,102.40C91.00,101.57 92.00,100.73 93.00,99.93C94.00,99.14 95.00,98.36 96.00,97.63C97.00,96.90 98.00,96.20 99.00,95.56C100.00,94.92 101.00,94.33 102.00,93.79C103.00,93.25 104.00,92.76 105.00,92.32C106.00,91.88 107.00,91.48 108.00,91.13C109.00,90.78 110.00,90.48 111.00,90.21C112.00,89.94 113.00,89.71 114.00,89.51C115.00,89.32 116.00,89.16 117.00,89.02C118.00,88.88 119.00,88.78 120.00,88.69C121.00,88.60 122.00,88.55 123.00,88.50C124.00,88.45 125.40,88.43 126.00,88.42C126.60,88.40 126.50,88.41 126.60,88.41" fill="none" stroke="#000" stroke-width="1.1"/>
<path d="M0.00,58.94C0.50,58.97 2.00,58.99 3.00,59.09C4.00,59.19 5.00,59.34 6.00,59.54C7.00,59.74 8.00,59.99 9.00,60.28C10.00,60.57 11.00,60.90 12.00,61.28C13.00,61.65 14.00,62.07 15.00,62.53C16.00,62.98 17.00,63.44 18.00,64.00C19.00,64.55 20.00,65.19 21.00,65.85C22.00,66.50 23.00,67.19 24.00,67.92C25.00,68.65 26.00,69.41 27.00,70.21C28.00,71.01 29.00,71.84 30.00,72.71C31.00,73.57 32.00,74.49 33.00,75.41C34.00,76.32 35.00,77.28 36.00,78.21C37.00,79.13 38.00,80.05 39.00,80.98C40.00,81.91 41.00,82.85 42.00,83.77C43.00,84.69 44.00,85.62 45.00,86.51C46.00,87.40 47.00,88.29 48.00,89.13C49.00,89.97 50.00,90.79 51.00,91.55C52.00,92.32 53.00,93.05 54.00,93.71C55.00,94.37 56.00,94.99 57.00,95.53C58.00,96.06 59.00,96.54 60.00,96.93C61.00,97.32 62.00,97.63 63.00,97.85C64.00,98.06 65.00,98.18 66.00,98.22C67.00,98.26 68.00,98.21 69.00,98.09C70.00,97.97 71.00,97.76 72.00,97.50C73.00,97.25 74.00,96.92 75.00,96.54C76.00,96.17 77.00,95.73 78.00,95.26C79.00,94.79 80.00,94.26 81.00,93.72C82.00,93.17 83.00,92.58 84.00,91.98C85.00,91.38 86.00,90.74 87.00,90.10C88.00,89.46 89.00,88.80 90.00,88.14C91.00,87.49 92.00,86.82 93.00,86.17C94.00,85.52 95.00,84.86 96.00,84.24C97.00,83.61 98.00,82.99 99.00,82.40C100.00,81.82 101.00,81.26 102.00,80.73C103.00,80.21 104.00,79.71 105.00,79.24C106.00,78.78 107.00,78.34 108.00,77.94C109.00,77.53 110.00,77.15 111.00,76.81C112.00,76.46 113.00,76.14 114.00,75.85C115.00,75.56 116.00,75.30 117.00,75.06C118.00,74.83 119.00,74.62 120.00,74.45C121.00,74.27 122.00,74.12 123.00,73.99C124.00,73.87 125.40,73.75 126.00,73.70C126.60,73.64 126.50,73.67 126.60,73.66" fill="none" stroke="#0000ff" stroke-width="2.0"/>
</g></g>
<rect x="0" y="0" width="126.60" height="126.80" fill="none" stroke="#000" stroke-width="1.05"/>
<path d="M21.10,0V1.50M21.10,126.80V125.30M42.20,0V1.50M42.20,126.80V125.30M63.30,0V1.50M63.30,126.80V125.30M84.40,0V1.50M84.40,126.80V125.30M105.50,0V1.50M105.50,126.80V125.30M0,31.70H1.50M126.60,31.70H125.10M0,63.40H1.50M126.60,63.40H125.10M0,95.10H1.50M126.60,95.10H125.10" stroke="#000" stroke-width="0.9" fill="none"/>
<text font-family="Liberation Serif" fill="#000" transform="translate(0,0.00)"><tspan x="45.44" y="21.44" font-size="17.2">(</tspan><tspan x="51.1" y="22.22" font-size="19.5">6</tspan><tspan x="61.41" y="21.3" font-size="19.5">,</tspan><tspan x="65.46" y="22.22" font-size="19.5">0</tspan><tspan x="74.7" y="21.44" font-size="17.2">)</tspan></text>
</g>
<g transform="translate(137.50,269.50)">
<g clip-path="url(#clip)">
<g filter="url(#bl)">
<ellipse cx="127.40" cy="56.20" rx="23.30" ry="4.10" fill="#60f4ff" transform="rotate(-9.0 127.40 56.20)"/>
<ellipse cx="127.40" cy="56.20" rx="21.44" ry="3.44" fill="#00d8ff" transform="rotate(-9.0 127.40 56.20)"/>
<ellipse cx="127.40" cy="56.20" rx="19.80" ry="2.79" fill="#0080ff" transform="rotate(-9.0 127.40 56.20)"/>
<ellipse cx="127.40" cy="62.40" rx="17.20" ry="2.00" fill="#ffff50" transform="rotate(-7.0 127.40 62.40)"/>
<ellipse cx="127.40" cy="62.40" rx="15.82" ry="1.68" fill="#ffd000" transform="rotate(-7.0 127.40 62.40)"/>
<ellipse cx="127.40" cy="62.40" rx="14.62" ry="1.36" fill="#ff8000" transform="rotate(-7.0 127.40 62.40)"/>
<ellipse cx="127.40" cy="66.40" rx="19.90" ry="2.00" fill="#60f4ff" transform="rotate(-7.0 127.40 66.40)"/>
<ellipse cx="127.40" cy="66.40" rx="18.31" ry="1.68" fill="#00d8ff" transform="rotate(-7.0 127.40 66.40)"/>
<ellipse cx="127.40" cy="70.20" rx="17.40" ry="1.70" fill="#ffff50" transform="rotate(-6.0 127.40 70.20)"/>
<ellipse cx="127.40" cy="70.20" rx="16.01" ry="1.43" fill="#ffd000" transform="rotate(-6.0 127.40 70.20)"/>
<ellipse cx="127.40" cy="70.20" rx="14.79" ry="1.16" fill="#ff8000" transform="rotate(-6.0 127.40 70.20)"/>
<ellipse cx="127.40" cy="73.90" rx="16.40" ry="2.00" fill="#60f4ff" transform="rotate(-6.0 127.40 73.90)"/>
<ellipse cx="127.40" cy="73.90" rx="15.09" ry="1.68" fill="#00d8ff" transform="rotate(-6.0 127.40 73.90)"/>
<ellipse cx="127.40" cy="73.90" rx="13.94" ry="1.36" fill="#0080ff" transform="rotate(-6.0 127.40 73.90)"/>
<ellipse cx="127.40" cy="77.70" rx="13.80" ry="1.70" fill="#ffff50" transform="rotate(-6.0 127.40 77.70)"/>
<ellipse cx="127.40" cy="77.70" rx="12.70" ry="1.43" fill="#ffd000" transform="rotate(-6.0 127.40 77.70)"/>
<ellipse cx="127.40" cy="77.70" rx="11.73" ry="1.16" fill="#ff8000" transform="rotate(-6.0 127.40 77.70)"/>
<ellipse cx="127.40" cy="81.80" rx="15.40" ry="2.40" fill="#60f4ff" transform="rotate(-6.0 127.40 81.80)"/>
<ellipse cx="127.40" cy="81.80" rx="14.17" ry="2.02" fill="#00d8ff" transform="rotate(-6.0 127.40 81.80)"/>
<ellipse cx="127.40" cy="81.80" rx="13.09" ry="1.63" fill="#0080ff" transform="rotate(-6.0 127.40 81.80)"/>
<ellipse cx="127.40" cy="86.90" rx="13.80" ry="2.80" fill="#ffff50" transform="rotate(-7.0 127.40 86.90)"/>
<ellipse cx="127.40" cy="86.90" rx="12.70" ry="2.35" fill="#ffd000" transform="rotate(-7.0 127.40 86.90)"/>
<ellipse cx="127.40" cy="86.90" rx="11.73" ry="1.90" fill="#ff8000" transform="rotate(-7.0 127.40 86.90)"/>
<ellipse cx="127.40" cy="86.90" rx="10.63" ry="1.46" fill="#f00000" transform="rotate(-7.0 127.40 86.90)"/>
<ellipse cx="127.40" cy="86.90" rx="8.28" ry="1.01" fill="#9a0000" transform="rotate(-7.0 127.40 86.90)"/>
<ellipse cx="-0.3" cy="49.30" rx="3.80" ry="4.00" fill="#60f4ff"/>
<ellipse cx="-0.3" cy="49.30" rx="3.50" ry="3.36" fill="#00d8ff"/>
<ellipse cx="-0.3" cy="49.30" rx="3.23" ry="2.72" fill="#0080ff"/>
<ellipse cx="-0.3" cy="49.30" rx="2.93" ry="2.08" fill="#0000f0"/>
<ellipse cx="-0.3" cy="56.30" rx="2.60" ry="1.50" fill="#ffff50"/>
<ellipse cx="-0.3" cy="56.30" rx="2.39" ry="1.26" fill="#ffd000"/>
</g>
<circle cx="6.30" cy="50.40" r="1.28" fill="url(#dpy)"/>
<g transform="translate(0,0.00)">
<path d="M0.00,38.56C0.50,38.64 2.00,38.84 3.00,39.07C4.00,39.29 5.00,39.58 6.00,39.91C7.00,40.23 8.00,40.62 9.00,41.04C10.00,41.45 11.00,41.92 12.00,42.41C13.00,42.91 14.00,43.44 15.00,44.00C16.00,44.56 17.00,45.15 18.00,45.75C19.00,46.36 20.00,46.99 21.00,47.64C22.00,48.28 23.00,48.94 24.00,49.61C25.00,50.27 26.00,50.95 27.00,51.63C28.00,52.30 29.00,52.98 30.00,53.65C31.00,54.32 32.00,54.99 33.00,55.64C34.00,56.30 35.00,56.94 36.00,57.56C37.00,58.19 38.00,58.78 39.00,59.37C40.00,59.96 41.00,60.55 42.00,61.11C43.00,61.66 44.00,62.21 45.00,62.73C46.00,63.24 47.00,63.73 48.00,64.19C49.00,64.65 50.00,65.10 51.00,65.49C52.00,65.88 53.00,66.23 54.00,66.54C55.00,66.86 56.00,67.13 57.00,67.38C58.00,67.63 59.00,67.84 60.00,68.02C61.00,68.20 62.00,68.35 63.00,68.46C64.00,68.58 65.00,68.65 66.00,68.69C67.00,68.73 68.00,68.74 69.00,68.70C70.00,68.66 71.00,68.59 72.00,68.48C73.00,68.36 74.00,68.20 75.00,68.02C76.00,67.83 77.00,67.60 78.00,67.34C79.00,67.09 80.00,66.80 81.00,66.49C82.00,66.18 83.00,65.83 84.00,65.48C85.00,65.12 86.00,64.74 87.00,64.35C88.00,63.95 89.00,63.54 90.00,63.12C91.00,62.71 92.00,62.27 93.00,61.84C94.00,61.41 95.00,60.96 96.00,60.52C97.00,60.09 98.00,59.65 99.00,59.21C100.00,58.77 101.00,58.33 102.00,57.90C103.00,57.47 104.00,57.05 105.00,56.64C106.00,56.24 107.00,55.84 108.00,55.47C109.00,55.10 110.00,54.75 111.00,54.42C112.00,54.10 113.00,53.80 114.00,53.53C115.00,53.26 116.00,53.02 117.00,52.81C118.00,52.61 119.00,52.44 120.00,52.31C121.00,52.18 122.00,52.09 123.00,52.05C124.00,52.01 125.40,52.06 126.00,52.07C126.60,52.07 126.50,52.10 126.60,52.10" fill="none" stroke="#000" stroke-width="1.1"/>
<path d="M0.00,73.95C0.50,73.97 2.00,73.98 3.00,74.07C4.00,74.16 5.00,74.31 6.00,74.51C7.00,74.70 8.00,74.95 9.00,75.25C10.00,75.54 11.00,75.89 12.00,76.28C13.00,76.67 14.00,77.12 15.00,77.60C16.00,78.09 17.00,78.62 18.00,79.19C19.00,79.76 20.00,80.38 21.00,81.04C22.00,81.70 23.00,82.41 24.00,83.15C25.00,83.89 26.00,84.67 27.00,85.49C28.00,86.31 29.00,87.19 30.00,88.07C31.00,88.95 32.00,89.84 33.00,90.77C34.00,91.71 35.00,92.68 36.00,93.69C37.00,94.69 38.00,95.74 39.00,96.80C40.00,97.86 41.00,98.96 42.00,100.04C43.00,101.12 44.00,102.22 45.00,103.28C46.00,104.33 47.00,105.39 48.00,106.39C49.00,107.39 50.00,108.36 51.00,109.27C52.00,110.18 53.00,111.05 54.00,111.83C55.00,112.60 56.00,113.31 57.00,113.92C58.00,114.54 59.00,115.07 60.00,115.51C61.00,115.95 62.00,116.31 63.00,116.56C64.00,116.81 65.00,116.97 66.00,117.02C67.00,117.07 68.00,117.02 69.00,116.86C70.00,116.70 71.00,116.42 72.00,116.06C73.00,115.70 74.00,115.23 75.00,114.69C76.00,114.16 77.00,113.54 78.00,112.87C79.00,112.20 80.00,111.46 81.00,110.70C82.00,109.94 83.00,109.11 84.00,108.29C85.00,107.47 86.00,106.60 87.00,105.75C88.00,104.90 89.00,104.04 90.00,103.20C91.00,102.36 92.00,101.52 93.00,100.72C94.00,99.92 95.00,99.14 96.00,98.41C97.00,97.68 98.00,96.97 99.00,96.33C100.00,95.69 101.00,95.09 102.00,94.55C103.00,94.01 104.00,93.52 105.00,93.07C106.00,92.63 107.00,92.23 108.00,91.88C109.00,91.53 110.00,91.22 111.00,90.95C112.00,90.68 113.00,90.45 114.00,90.25C115.00,90.05 116.00,89.88 117.00,89.74C118.00,89.60 119.00,89.50 120.00,89.41C121.00,89.32 122.00,89.26 123.00,89.21C124.00,89.16 125.40,89.14 126.00,89.12C126.60,89.10 126.50,89.11 126.60,89.11" fill="none" stroke="#000" stroke-width="1.1"/>
<path d="M0.00,58.94C0.50,58.97 2.00,58.99 3.00,59.09C4.00,59.19 5.00,59.34 6.00,59.54C7.00,59.74 8.00,59.99 9.00,60.28C10.00,60.57 11.00,60.90 12.00,61.28C13.00,61.65 14.00,62.07 15.00,62.53C16.00,62.98 17.00,63.44 18.00,64.00C19.00,64.55 20.00,65.19 21.00,65.85C22.00,66.50 23.00,67.19 24.00,67.92C25.00,68.65 26.00,69.41 27.00,70.21C28.00,71.01 29.00,71.84 30.00,72.71C31.00,73.57 32.00,74.49 33.00,75.41C34.00,76.32 35.00,77.28 36.00,78.21C37.00,79.13 38.00,80.05 39.00,80.98C40.00,81.91 41.00,82.85 42.00,83.77C43.00,84.69 44.00,85.62 45.00,86.51C46.00,87.40 47.00,88.29 48.00,89.13C49.00,89.97 50.00,90.79 51.00,91.55C52.00,92.32 53.00,93.05 54.00,93.71C55.00,94.37 56.00,94.99 57.00,95.53C58.00,96.06 59.00,96.54 60.00,96.93C61.00,97.32 62.00,97.63 63.00,97.85C64.00,98.06 65.00,98.18 66.00,98.22C67.00,98.26 68.00,98.21 69.00,98.09C70.00,97.97 71.00,97.76 72.00,97.50C73.00,97.25 74.00,96.92 75.00,96.54C76.00,96.17 77.00,95.73 78.00,95.26C79.00,94.79 80.00,94.26 81.00,93.72C82.00,93.17 83.00,92.58 84.00,91.98C85.00,91.38 86.00,90.74 87.00,90.10C88.00,89.46 89.00,88.80 90.00,88.14C91.00,87.49 92.00,86.82 93.00,86.17C94.00,85.52 95.00,84.86 96.00,84.24C97.00,83.61 98.00,82.99 99.00,82.40C100.00,81.82 101.00,81.26 102.00,80.73C103.00,80.21 104.00,79.71 105.00,79.24C106.00,78.78 107.00,78.34 108.00,77.94C109.00,77.53 110.00,77.15 111.00,76.81C112.00,76.46 113.00,76.14 114.00,75.85C115.00,75.56 116.00,75.30 117.00,75.06C118.00,74.83 119.00,74.62 120.00,74.45C121.00,74.27 122.00,74.12 123.00,73.99C124.00,73.87 125.40,73.75 126.00,73.70C126.60,73.64 126.50,73.67 126.60,73.66" fill="none" stroke="#0000ff" stroke-width="2.0"/>
</g></g>
<rect x="0" y="0" width="126.60" height="126.80" fill="none" stroke="#000" stroke-width="1.05"/>
<path d="M21.10,0V1.50M21.10,126.80V125.30M42.20,0V1.50M42.20,126.80V125.30M63.30,0V1.50M63.30,126.80V125.30M84.40,0V1.50M84.40,126.80V125.30M105.50,0V1.50M105.50,126.80V125.30M0,31.70H1.50M126.60,31.70H125.10M0,63.40H1.50M126.60,63.40H125.10M0,95.10H1.50M126.60,95.10H125.10" stroke="#000" stroke-width="0.9" fill="none"/>
<text font-family="Liberation Serif" fill="#000" transform="translate(0,0.00)"><tspan x="45.44" y="21.44" font-size="17.2">(</tspan><tspan x="51.1" y="22.22" font-size="19.5">7</tspan><tspan x="61.41" y="21.3" font-size="19.5">,</tspan><tspan x="65.46" y="22.22" font-size="19.5">0</tspan><tspan x="74.7" y="21.44" font-size="17.2">)</tspan></text>
</g>
<g transform="translate(269.45,269.50)">
<g clip-path="url(#clip)">
<g filter="url(#bl)">
<ellipse cx="127.40" cy="52.80" rx="23.30" ry="4.10" fill="#ffff50" transform="rotate(-9.0 127.40 52.80)"/>
<ellipse cx="127.40" cy="52.80" rx="21.44" ry="3.44" fill="#ffd000" transform="rotate(-9.0 127.40 52.80)"/>
<ellipse cx="127.40" cy="59.00" rx="19.20" ry="2.60" fill="#60f4ff" transform="rotate(-8.0 127.40 59.00)"/>
<ellipse cx="127.40" cy="59.00" rx="17.66" ry="2.18" fill="#00d8ff" transform="rotate(-8.0 127.40 59.00)"/>
<ellipse cx="127.40" cy="59.00" rx="16.32" ry="1.77" fill="#0080ff" transform="rotate(-8.0 127.40 59.00)"/>
<ellipse cx="127.40" cy="63.80" rx="16.90" ry="2.00" fill="#ffff50" transform="rotate(-7.0 127.40 63.80)"/>
<ellipse cx="127.40" cy="63.80" rx="15.55" ry="1.68" fill="#ffd000" transform="rotate(-7.0 127.40 63.80)"/>
<ellipse cx="127.40" cy="63.80" rx="14.36" ry="1.36" fill="#ff8000" transform="rotate(-7.0 127.40 63.80)"/>
<ellipse cx="127.40" cy="67.90" rx="16.40" ry="2.00" fill="#60f4ff" transform="rotate(-7.0 127.40 67.90)"/>
<ellipse cx="127.40" cy="67.90" rx="15.09" ry="1.68" fill="#00d8ff" transform="rotate(-7.0 127.40 67.90)"/>
<ellipse cx="127.40" cy="67.90" rx="13.94" ry="1.36" fill="#0080ff" transform="rotate(-7.0 127.40 67.90)"/>
<ellipse cx="127.40" cy="71.60" rx="16.90" ry="1.70" fill="#ffff50" transform="rotate(-6.0 127.40 71.60)"/>
<ellipse cx="127.40" cy="71.60" rx="15.55" ry="1.43" fill="#ffd000" transform="rotate(-6.0 127.40 71.60)"/>
<ellipse cx="127.40" cy="71.60" rx="14.36" ry="1.16" fill="#ff8000" transform="rotate(-6.0 127.40 71.60)"/>
<ellipse cx="127.40" cy="74.70" rx="15.40" ry="1.40" fill="#60f4ff" transform="rotate(-6.0 127.40 74.70)"/>
<ellipse cx="127.40" cy="74.70" rx="14.17" ry="1.18" fill="#00d8ff" transform="rotate(-6.0 127.40 74.70)"/>
<ellipse cx="127.40" cy="74.70" rx="13.09" ry="0.95" fill="#0080ff" transform="rotate(-6.0 127.40 74.70)"/>
<ellipse cx="127.40" cy="78.10" rx="15.90" ry="2.00" fill="#ffff50" transform="rotate(-6.0 127.40 78.10)"/>
<ellipse cx="127.40" cy="78.10" rx="14.63" ry="1.68" fill="#ffd000" transform="rotate(-6.0 127.40 78.10)"/>
<ellipse cx="127.40" cy="78.10" rx="13.51" ry="1.36" fill="#ff8000" transform="rotate(-6.0 127.40 78.10)"/>
<ellipse cx="127.40" cy="82.90" rx="18.40" ry="2.70" fill="#60f4ff" transform="rotate(-6.0 127.40 82.90)"/>
<ellipse cx="127.40" cy="82.90" rx="16.93" ry="2.27" fill="#00d8ff" transform="rotate(-6.0 127.40 82.90)"/>
<ellipse cx="127.40" cy="82.90" rx="15.64" ry="1.84" fill="#0080ff" transform="rotate(-6.0 127.40 82.90)"/>
<ellipse cx="127.40" cy="82.90" rx="14.17" ry="1.40" fill="#0000f0" transform="rotate(-6.0 127.40 82.90)"/>
<ellipse cx="127.40" cy="88.60" rx="16.40" ry="3.00" fill="#ffff50" transform="rotate(-7.0 127.40 88.60)"/>
<ellipse cx="127.40" cy="88.60" rx="15.09" ry="2.52" fill="#ffd000" transform="rotate(-7.0 127.40 88.60)"/>
<ellipse cx="127.40" cy="88.60" rx="13.94" ry="2.04" fill="#ff8000" transform="rotate(-7.0 127.40 88.60)"/>
<ellipse cx="127.40" cy="88.60" rx="12.63" ry="1.56" fill="#f00000" transform="rotate(-7.0 127.40 88.60)"/>
<ellipse cx="127.40" cy="88.60" rx="9.84" ry="1.08" fill="#9a0000" transform="rotate(-7.0 127.40 88.60)"/>
<ellipse cx="-0.3" cy="51.20" rx="1.60" ry="1.80" fill="#ffff50"/>
<ellipse cx="-0.3" cy="51.20" rx="1.47" ry="1.51" fill="#ffd000"/>
</g>
<circle cx="102.75" cy="63.70" r="1.44" fill="url(#dpc)"/>
<circle cx="107.55" cy="70.50" r="1.44" fill="url(#dpc)"/>
<g transform="translate(0,0.00)">
<path d="M0.00,33.38C0.50,33.48 2.00,33.72 3.00,33.98C4.00,34.23 5.00,34.55 6.00,34.91C7.00,35.28 8.00,35.69 9.00,36.15C10.00,36.60 11.00,37.11 12.00,37.64C13.00,38.17 14.00,38.75 15.00,39.34C16.00,39.94 17.00,40.57 18.00,41.21C19.00,41.86 20.00,42.53 21.00,43.21C22.00,43.89 23.00,44.59 24.00,45.29C25.00,45.99 26.00,46.71 27.00,47.41C28.00,48.12 29.00,48.83 30.00,49.53C31.00,50.23 32.00,50.93 33.00,51.61C34.00,52.28 35.00,52.95 36.00,53.59C37.00,54.23 38.00,54.85 39.00,55.44C40.00,56.03 41.00,56.59 42.00,57.12C43.00,57.65 44.00,58.15 45.00,58.62C46.00,59.09 47.00,59.53 48.00,59.94C49.00,60.35 50.00,60.72 51.00,61.07C52.00,61.41 53.00,61.73 54.00,62.01C55.00,62.29 56.00,62.54 57.00,62.75C58.00,62.97 59.00,63.16 60.00,63.31C61.00,63.46 62.00,63.58 63.00,63.67C64.00,63.75 65.00,63.81 66.00,63.83C67.00,63.85 68.00,63.83 69.00,63.79C70.00,63.74 71.00,63.66 72.00,63.54C73.00,63.43 74.00,63.28 75.00,63.09C76.00,62.91 77.00,62.69 78.00,62.44C79.00,62.18 80.00,61.89 81.00,61.58C82.00,61.27 83.00,60.92 84.00,60.56C85.00,60.19 86.00,59.80 87.00,59.40C88.00,59.00 89.00,58.58 90.00,58.15C91.00,57.72 92.00,57.28 93.00,56.84C94.00,56.40 95.00,55.95 96.00,55.50C97.00,55.06 98.00,54.61 99.00,54.17C100.00,53.74 101.00,53.30 102.00,52.89C103.00,52.47 104.00,52.07 105.00,51.68C106.00,51.30 107.00,50.93 108.00,50.59C109.00,50.26 110.00,49.94 111.00,49.65C112.00,49.37 113.00,49.11 114.00,48.89C115.00,48.67 116.00,48.48 117.00,48.34C118.00,48.19 119.00,48.08 120.00,48.01C121.00,47.95 122.00,47.92 123.00,47.95C124.00,47.97 125.40,48.11 126.00,48.16C126.60,48.21 126.50,48.23 126.60,48.24" fill="none" stroke="#000" stroke-width="1.1"/>
<path d="M0.00,76.37C0.50,76.29 2.00,75.98 3.00,75.93C4.00,75.87 5.00,75.91 6.00,76.03C7.00,76.15 8.00,76.36 9.00,76.64C10.00,76.92 11.00,77.28 12.00,77.70C13.00,78.13 14.00,78.63 15.00,79.18C16.00,79.73 17.00,80.35 18.00,81.02C19.00,81.68 20.00,82.41 21.00,83.17C22.00,83.93 23.00,84.75 24.00,85.60C25.00,86.44 26.00,87.33 27.00,88.25C28.00,89.16 29.00,90.11 30.00,91.07C31.00,92.04 32.00,93.03 33.00,94.03C34.00,95.03 35.00,96.05 36.00,97.07C37.00,98.09 38.00,99.13 39.00,100.16C40.00,101.18 41.00,102.21 42.00,103.22C43.00,104.22 44.00,105.23 45.00,106.19C46.00,107.15 47.00,108.09 48.00,108.98C49.00,109.87 50.00,110.73 51.00,111.52C52.00,112.31 53.00,113.06 54.00,113.73C55.00,114.40 56.00,115.01 57.00,115.52C58.00,116.04 59.00,116.48 60.00,116.83C61.00,117.19 62.00,117.46 63.00,117.64C64.00,117.83 65.00,117.94 66.00,117.96C67.00,117.99 68.00,117.93 69.00,117.80C70.00,117.66 71.00,117.45 72.00,117.16C73.00,116.87 74.00,116.49 75.00,116.05C76.00,115.61 77.00,115.08 78.00,114.50C79.00,113.93 80.00,113.28 81.00,112.60C82.00,111.92 83.00,111.18 84.00,110.42C85.00,109.66 86.00,108.86 87.00,108.06C88.00,107.26 89.00,106.43 90.00,105.61C91.00,104.79 92.00,103.95 93.00,103.14C94.00,102.33 95.00,101.53 96.00,100.75C97.00,99.98 98.00,99.22 99.00,98.51C100.00,97.79 101.00,97.09 102.00,96.45C103.00,95.80 104.00,95.18 105.00,94.61C106.00,94.05 107.00,93.52 108.00,93.05C109.00,92.59 110.00,92.17 111.00,91.81C112.00,91.45 113.00,91.15 114.00,90.91C115.00,90.67 116.00,90.48 117.00,90.37C118.00,90.25 119.00,90.19 120.00,90.20C121.00,90.21 122.00,90.29 123.00,90.44C124.00,90.58 125.40,90.95 126.00,91.08C126.60,91.22 126.50,91.23 126.60,91.26" fill="none" stroke="#000" stroke-width="1.1"/>
<path d="M0.00,58.94C0.50,58.97 2.00,58.99 3.00,59.09C4.00,59.19 5.00,59.34 6.00,59.54C7.00,59.74 8.00,59.99 9.00,60.28C10.00,60.57 11.00,60.90 12.00,61.28C13.00,61.65 14.00,62.07 15.00,62.53C16.00,62.98 17.00,63.44 18.00,64.00C19.00,64.55 20.00,65.19 21.00,65.85C22.00,66.50 23.00,67.19 24.00,67.92C25.00,68.65 26.00,69.41 27.00,70.21C28.00,71.01 29.00,71.84 30.00,72.71C31.00,73.57 32.00,74.49 33.00,75.41C34.00,76.32 35.00,77.28 36.00,78.21C37.00,79.13 38.00,80.05 39.00,80.98C40.00,81.91 41.00,82.85 42.00,83.77C43.00,84.69 44.00,85.62 45.00,86.51C46.00,87.40 47.00,88.29 48.00,89.13C49.00,89.97 50.00,90.79 51.00,91.55C52.00,92.32 53.00,93.05 54.00,93.71C55.00,94.37 56.00,94.99 57.00,95.53C58.00,96.06 59.00,96.54 60.00,96.93C61.00,97.32 62.00,97.63 63.00,97.85C64.00,98.06 65.00,98.18 66.00,98.22C67.00,98.26 68.00,98.21 69.00,98.09C70.00,97.97 71.00,97.76 72.00,97.50C73.00,97.25 74.00,96.92 75.00,96.54C76.00,96.17 77.00,95.73 78.00,95.26C79.00,94.79 80.00,94.26 81.00,93.72C82.00,93.17 83.00,92.58 84.00,91.98C85.00,91.38 86.00,90.74 87.00,90.10C88.00,89.46 89.00,88.80 90.00,88.14C91.00,87.49 92.00,86.82 93.00,86.17C94.00,85.52 95.00,84.86 96.00,84.24C97.00,83.61 98.00,82.99 99.00,82.40C100.00,81.82 101.00,81.26 102.00,80.73C103.00,80.21 104.00,79.71 105.00,79.24C106.00,78.78 107.00,78.34 108.00,77.94C109.00,77.53 110.00,77.15 111.00,76.81C112.00,76.46 113.00,76.14 114.00,75.85C115.00,75.56 116.00,75.30 117.00,75.06C118.00,74.83 119.00,74.62 120.00,74.45C121.00,74.27 122.00,74.12 123.00,73.99C124.00,73.87 125.40,73.75 126.00,73.70C126.60,73.64 126.50,73.67 126.60,73.66" fill="none" stroke="#0000ff" stroke-width="2.0"/>
</g></g>
<rect x="0" y="0" width="126.60" height="126.80" fill="none" stroke="#000" stroke-width="1.05"/>
<path d="M21.10,0V1.50M21.10,126.80V125.30M42.20,0V1.50M42.20,126.80V125.30M63.30,0V1.50M63.30,126.80V125.30M84.40,0V1.50M84.40,126.80V125.30M105.50,0V1.50M105.50,126.80V125.30M0,31.70H1.50M126.60,31.70H125.10M0,63.40H1.50M126.60,63.40H125.10M0,95.10H1.50M126.60,95.10H125.10" stroke="#000" stroke-width="0.9" fill="none"/>
<text font-family="Liberation Serif" fill="#000" transform="translate(0,0.00)"><tspan x="45.44" y="21.44" font-size="17.2">(</tspan><tspan x="51.1" y="22.22" font-size="19.5">8</tspan><tspan x="61.41" y="21.3" font-size="19.5">,</tspan><tspan x="65.46" y="22.22" font-size="19.5">0</tspan><tspan x="74.7" y="21.44" font-size="17.2">)</tspan></text>
</g>
</svg>
</body></html>
